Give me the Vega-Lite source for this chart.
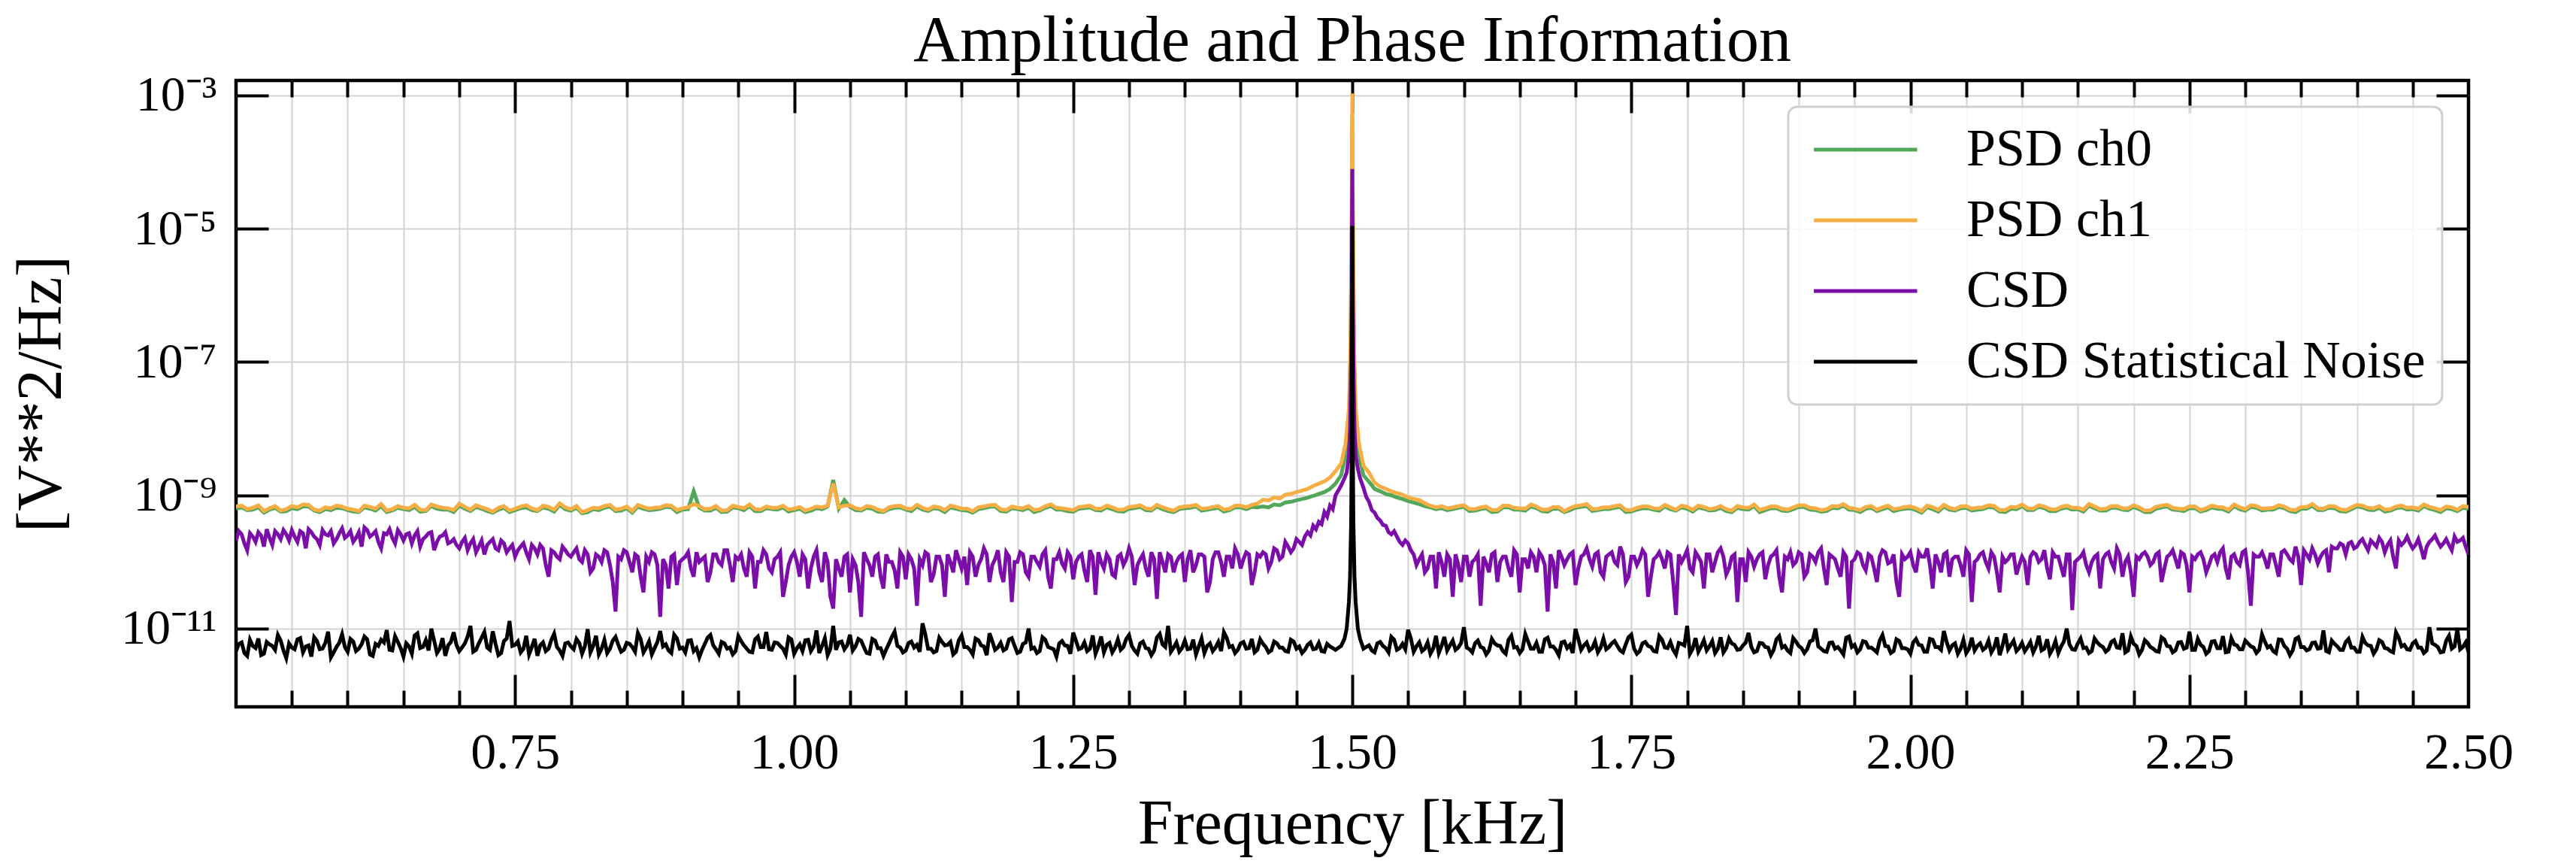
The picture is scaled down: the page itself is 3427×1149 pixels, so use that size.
{
  "$schema": "https://vega.github.io/schema/vega-lite/v6.json",
  "autosize": {"type": "none"},
  "width": 2970,
  "height": 833,
  "padding": {"left": 314, "top": 107, "right": 143, "bottom": 209},
  "background": "white",
  "title": {"text": "Amplitude and Phase Information", "font": "Liberation Serif", "fontSize": 86, "fontWeight": "normal", "color": "black", "anchor": "middle", "frame": "group", "baseline": "alphabetic", "offset": -73},
  "config": {
    "font": "Liberation Serif",
    "view": {"stroke": "black", "strokeWidth": 4.5},
    "axis": {"labelFont": "Liberation Serif", "titleFont": "Liberation Serif", "labelColor": "black", "titleColor": "black", "titleFontWeight": "normal", "labelFlush": false, "labelOverlap": false},
    "legend": {"orient": "top-right", "offset": 35, "padding": 22, "strokeColor": "#cfcfcf", "strokeWidth": 3, "cornerRadius": 12, "fillColor": "rgba(255,255,255,0.85)", "labelFont": "Liberation Serif", "labelFontSize": 70, "labelColor": "black", "labelLimit": 1000, "symbolType": "M-1,0H5", "symbolSize": 2100, "symbolStrokeWidth": 5, "labelOffset": 145, "rowPadding": 24}
  },
  "datasets": {
    "psd": [
      {"f":0.5,"ch0":6.3e-10,"ch1":6.8e-10},{"f":0.51,"ch0":6.0e-10,"ch1":6.2e-10},{"f":0.52,"ch0":6.6e-10,"ch1":7.1e-10},{"f":0.53,"ch0":6.1e-10,"ch1":6.4e-10},{"f":0.54,"ch0":5.7e-10,"ch1":5.9e-10},{"f":0.55,"ch0":6.4e-10,"ch1":6.9e-10},{"f":0.56,"ch0":6.8e-10,"ch1":7.3e-10},{"f":0.57,"ch0":5.9e-10,"ch1":6.1e-10},{"f":0.58,"ch0":6.2e-10,"ch1":6.6e-10},{"f":0.59,"ch0":6.5e-10,"ch1":7.0e-10},
      {"f":0.6,"ch0":6.0e-10,"ch1":6.3e-10},{"f":0.61,"ch0":5.6e-10,"ch1":5.8e-10},{"f":0.62,"ch0":6.3e-10,"ch1":6.7e-10},{"f":0.63,"ch0":6.9e-10,"ch1":7.4e-10},{"f":0.64,"ch0":5.9e-10,"ch1":6.2e-10},{"f":0.65,"ch0":6.2e-10,"ch1":6.5e-10},{"f":0.66,"ch0":6.7e-10,"ch1":7.2e-10},{"f":0.67,"ch0":5.8e-10,"ch1":6.0e-10},{"f":0.68,"ch0":6.3e-10,"ch1":6.8e-10},{"f":0.69,"ch0":6.1e-10,"ch1":6.4e-10},
      {"f":0.7,"ch0":7.0e-10,"ch1":7.5e-10},{"f":0.71,"ch0":5.8e-10,"ch1":6.1e-10},{"f":0.72,"ch0":6.3e-10,"ch1":6.6e-10},{"f":0.73,"ch0":5.5e-10,"ch1":5.7e-10},{"f":0.74,"ch0":6.5e-10,"ch1":6.9e-10},{"f":0.75,"ch0":6.0e-10,"ch1":6.3e-10},{"f":0.76,"ch0":6.6e-10,"ch1":7.1e-10},{"f":0.77,"ch0":5.8e-10,"ch1":6.0e-10},{"f":0.78,"ch0":6.3e-10,"ch1":6.7e-10},{"f":0.79,"ch0":7.2e-10,"ch1":7.6e-10},
      {"f":0.8,"ch0":5.9e-10,"ch1":6.2e-10},{"f":0.81,"ch0":5.4e-10,"ch1":5.6e-10},{"f":0.82,"ch0":6.2e-10,"ch1":6.5e-10},{"f":0.83,"ch0":6.5e-10,"ch1":6.9e-10},{"f":0.84,"ch0":5.8e-10,"ch1":6.1e-10},{"f":0.85,"ch0":6.4e-10,"ch1":6.8e-10},{"f":0.86,"ch0":6.8e-10,"ch1":7.2e-10},{"f":0.87,"ch0":6.0e-10,"ch1":6.3e-10},{"f":0.88,"ch0":6.3e-10,"ch1":6.6e-10},{"f":0.89,"ch0":6.6e-10,"ch1":7.0e-10},
      {"f":0.9,"ch0":6.1e-10,"ch1":6.4e-10},{"f":0.91,"ch0":1.15e-9,"ch1":7.4e-10},{"f":0.92,"ch0":5.9e-10,"ch1":6.2e-10},{"f":0.93,"ch0":6.5e-10,"ch1":6.9e-10},{"f":0.94,"ch0":5.7e-10,"ch1":6.0e-10},{"f":0.95,"ch0":6.4e-10,"ch1":6.7e-10},{"f":0.96,"ch0":6.9e-10,"ch1":7.3e-10},{"f":0.97,"ch0":5.8e-10,"ch1":6.1e-10},{"f":0.98,"ch0":6.2e-10,"ch1":6.5e-10},{"f":0.99,"ch0":6.6e-10,"ch1":7.0e-10},
      {"f":1.0,"ch0":6.0e-10,"ch1":6.3e-10},{"f":1.01,"ch0":5.6e-10,"ch1":5.9e-10},{"f":1.02,"ch0":6.4e-10,"ch1":6.8e-10},{"f":1.03,"ch0":6.8e-10,"ch1":7.0e-10},{"f":1.035,"ch0":1.7e-9,"ch1":1.5e-9},{"f":1.04,"ch0":6.3e-10,"ch1":6.6e-10},{"f":1.045,"ch0":8.5e-10,"ch1":7.0e-10},{"f":1.05,"ch0":6.7e-10,"ch1":7.1e-10},
      {"f":1.06,"ch0":5.9e-10,"ch1":6.2e-10},{"f":1.07,"ch0":6.3e-10,"ch1":6.7e-10},{"f":1.08,"ch0":5.6e-10,"ch1":5.8e-10},{"f":1.09,"ch0":6.5e-10,"ch1":6.9e-10},{"f":1.1,"ch0":6.1e-10,"ch1":6.4e-10},{"f":1.11,"ch0":6.8e-10,"ch1":7.2e-10},{"f":1.12,"ch0":5.8e-10,"ch1":6.1e-10},{"f":1.13,"ch0":6.2e-10,"ch1":6.6e-10},{"f":1.14,"ch0":6.6e-10,"ch1":7.0e-10},{"f":1.15,"ch0":6.0e-10,"ch1":6.3e-10},
      {"f":1.16,"ch0":5.5e-10,"ch1":5.8e-10},{"f":1.17,"ch0":6.4e-10,"ch1":6.8e-10},{"f":1.18,"ch0":6.8e-10,"ch1":7.2e-10},{"f":1.19,"ch0":5.7e-10,"ch1":6.0e-10},{"f":1.2,"ch0":6.2e-10,"ch1":6.5e-10},{"f":1.21,"ch0":6.5e-10,"ch1":6.9e-10},{"f":1.22,"ch0":5.9e-10,"ch1":6.2e-10},{"f":1.23,"ch0":6.9e-10,"ch1":7.3e-10},{"f":1.24,"ch0":6.1e-10,"ch1":6.4e-10},{"f":1.25,"ch0":5.7e-10,"ch1":6.0e-10},
      {"f":1.26,"ch0":6.4e-10,"ch1":6.8e-10},{"f":1.27,"ch0":6.0e-10,"ch1":6.3e-10},{"f":1.28,"ch0":6.6e-10,"ch1":7.0e-10},{"f":1.29,"ch0":5.8e-10,"ch1":6.1e-10},{"f":1.3,"ch0":6.3e-10,"ch1":6.7e-10},{"f":1.31,"ch0":6.7e-10,"ch1":7.1e-10},{"f":1.32,"ch0":5.9e-10,"ch1":6.2e-10},{"f":1.33,"ch0":6.2e-10,"ch1":6.6e-10},{"f":1.34,"ch0":5.6e-10,"ch1":5.9e-10},{"f":1.35,"ch0":6.4e-10,"ch1":6.8e-10},
      {"f":1.36,"ch0":6.8e-10,"ch1":7.2e-10},{"f":1.37,"ch0":6.1e-10,"ch1":6.4e-10},{"f":1.38,"ch0":6.5e-10,"ch1":6.9e-10},{"f":1.39,"ch0":6.0e-10,"ch1":6.3e-10},{"f":1.4,"ch0":6.6e-10,"ch1":7.0e-10},{"f":1.405,"ch0":6.2e-10,"ch1":6.6e-10},{"f":1.41,"ch0":6.7e-10,"ch1":7.2e-10},{"f":1.415,"ch0":6.6e-10,"ch1":7.5e-10},
      {"f":1.42,"ch0":6.8e-10,"ch1":8.6e-10},{"f":1.425,"ch0":6.6e-10,"ch1":8.4e-10},{"f":1.43,"ch0":7.3e-10,"ch1":9.3e-10},{"f":1.435,"ch0":7.1e-10,"ch1":9.0e-10},{"f":1.44,"ch0":7.8e-10,"ch1":1.02e-9},{"f":1.445,"ch0":8.0e-10,"ch1":1.05e-9},{"f":1.45,"ch0":8.4e-10,"ch1":1.12e-9},{"f":1.455,"ch0":8.8e-10,"ch1":1.18e-9},{"f":1.46,"ch0":9.2e-10,"ch1":1.25e-9},{"f":1.465,"ch0":9.8e-10,"ch1":1.38e-9},
      {"f":1.47,"ch0":1.05e-9,"ch1":1.5e-9},{"f":1.475,"ch0":1.12e-9,"ch1":1.62e-9},{"f":1.48,"ch0":1.25e-9,"ch1":1.85e-9},{"f":1.485,"ch0":1.5e-9,"ch1":2.3e-9},{"f":1.49,"ch0":2.0e-9,"ch1":3.0e-9},{"f":1.494,"ch0":4.0e-9,"ch1":6.0e-9},{"f":1.497,"ch0":1.4e-8,"ch1":2.0e-8},{"f":1.4985,"ch0":1.4e-7,"ch1":2.0e-7},{"f":1.4995,"ch0":1.4e-5,"ch1":2.0e-5},
      {"f":1.5,"ch0":5.0e-4,"ch1":1.07e-3},
      {"f":1.5005,"ch0":1.4e-5,"ch1":2.0e-5},{"f":1.5015,"ch0":1.4e-7,"ch1":2.0e-7},{"f":1.503,"ch0":1.4e-8,"ch1":2.0e-8},{"f":1.506,"ch0":4.0e-9,"ch1":6.0e-9},{"f":1.51,"ch0":2.0e-9,"ch1":2.8e-9},{"f":1.515,"ch0":1.6e-9,"ch1":2.2e-9},{"f":1.52,"ch0":1.25e-9,"ch1":1.55e-9},{"f":1.525,"ch0":1.15e-9,"ch1":1.35e-9},{"f":1.53,"ch0":1.05e-9,"ch1":1.25e-9},{"f":1.535,"ch0":1.0e-9,"ch1":1.15e-9},
      {"f":1.54,"ch0":9.3e-10,"ch1":1.08e-9},{"f":1.545,"ch0":8.8e-10,"ch1":1.02e-9},{"f":1.55,"ch0":8.2e-10,"ch1":9.3e-10},{"f":1.555,"ch0":7.8e-10,"ch1":8.8e-10},{"f":1.56,"ch0":7.4e-10,"ch1":8.5e-10},{"f":1.565,"ch0":6.9e-10,"ch1":7.6e-10},{"f":1.57,"ch0":6.6e-10,"ch1":7.0e-10},{"f":1.575,"ch0":6.2e-10,"ch1":6.6e-10},{"f":1.58,"ch0":6.4e-10,"ch1":6.9e-10},
      {"f":1.59,"ch0":6.2e-10,"ch1":6.6e-10},{"f":1.6,"ch0":6.7e-10,"ch1":7.1e-10},{"f":1.61,"ch0":5.9e-10,"ch1":6.2e-10},{"f":1.62,"ch0":6.4e-10,"ch1":6.8e-10},{"f":1.63,"ch0":5.7e-10,"ch1":6.0e-10},{"f":1.64,"ch0":6.6e-10,"ch1":7.0e-10},{"f":1.65,"ch0":6.1e-10,"ch1":6.4e-10},{"f":1.66,"ch0":6.8e-10,"ch1":7.3e-10},{"f":1.67,"ch0":5.8e-10,"ch1":6.1e-10},{"f":1.68,"ch0":6.3e-10,"ch1":6.7e-10},
      {"f":1.69,"ch0":5.6e-10,"ch1":5.8e-10},{"f":1.7,"ch0":6.5e-10,"ch1":6.9e-10},{"f":1.71,"ch0":6.9e-10,"ch1":7.4e-10},{"f":1.72,"ch0":6.0e-10,"ch1":6.3e-10},{"f":1.73,"ch0":6.2e-10,"ch1":6.6e-10},{"f":1.74,"ch0":6.7e-10,"ch1":7.1e-10},{"f":1.75,"ch0":5.7e-10,"ch1":6.0e-10},{"f":1.76,"ch0":6.4e-10,"ch1":6.8e-10},{"f":1.77,"ch0":6.1e-10,"ch1":6.4e-10},{"f":1.78,"ch0":6.8e-10,"ch1":7.2e-10},
      {"f":1.79,"ch0":5.9e-10,"ch1":6.1e-10},{"f":1.8,"ch0":6.3e-10,"ch1":6.7e-10},{"f":1.81,"ch0":6.6e-10,"ch1":7.0e-10},{"f":1.82,"ch0":5.9e-10,"ch1":6.2e-10},{"f":1.83,"ch0":6.5e-10,"ch1":6.9e-10},{"f":1.84,"ch0":5.6e-10,"ch1":5.9e-10},{"f":1.85,"ch0":6.2e-10,"ch1":6.6e-10},{"f":1.86,"ch0":6.9e-10,"ch1":7.3e-10},{"f":1.87,"ch0":6.0e-10,"ch1":6.4e-10},{"f":1.88,"ch0":6.4e-10,"ch1":6.8e-10},
      {"f":1.89,"ch0":5.8e-10,"ch1":6.1e-10},{"f":1.9,"ch0":6.7e-10,"ch1":7.1e-10},{"f":1.91,"ch0":6.1e-10,"ch1":6.5e-10},{"f":1.92,"ch0":5.7e-10,"ch1":6.0e-10},{"f":1.93,"ch0":6.5e-10,"ch1":6.9e-10},{"f":1.94,"ch0":7.0e-10,"ch1":7.4e-10},{"f":1.95,"ch0":6.0e-10,"ch1":6.3e-10},{"f":1.96,"ch0":6.3e-10,"ch1":6.7e-10},{"f":1.97,"ch0":5.8e-10,"ch1":6.1e-10},{"f":1.98,"ch0":6.6e-10,"ch1":7.0e-10},
      {"f":1.99,"ch0":6.1e-10,"ch1":6.4e-10},{"f":2.0,"ch0":6.4e-10,"ch1":6.8e-10},{"f":2.01,"ch0":5.5e-10,"ch1":5.8e-10},{"f":2.02,"ch0":6.2e-10,"ch1":6.6e-10},{"f":2.03,"ch0":6.8e-10,"ch1":7.2e-10},{"f":2.04,"ch0":5.9e-10,"ch1":6.2e-10},{"f":2.05,"ch0":6.5e-10,"ch1":6.9e-10},{"f":2.06,"ch0":6.1e-10,"ch1":6.5e-10},{"f":2.07,"ch0":6.7e-10,"ch1":7.1e-10},{"f":2.08,"ch0":5.7e-10,"ch1":6.0e-10},
      {"f":2.09,"ch0":6.3e-10,"ch1":6.7e-10},{"f":2.1,"ch0":6.9e-10,"ch1":7.3e-10},{"f":2.11,"ch0":6.0e-10,"ch1":6.3e-10},{"f":2.12,"ch0":6.4e-10,"ch1":6.8e-10},{"f":2.13,"ch0":5.8e-10,"ch1":6.1e-10},{"f":2.14,"ch0":6.6e-10,"ch1":7.0e-10},{"f":2.15,"ch0":6.2e-10,"ch1":6.5e-10},{"f":2.16,"ch0":7.0e-10,"ch1":7.4e-10},{"f":2.17,"ch0":5.9e-10,"ch1":6.2e-10},{"f":2.18,"ch0":6.5e-10,"ch1":6.9e-10},
      {"f":2.19,"ch0":6.1e-10,"ch1":6.4e-10},{"f":2.2,"ch0":6.7e-10,"ch1":7.1e-10},{"f":2.21,"ch0":5.6e-10,"ch1":5.9e-10},{"f":2.22,"ch0":6.3e-10,"ch1":6.7e-10},{"f":2.23,"ch0":6.8e-10,"ch1":7.2e-10},{"f":2.24,"ch0":6.0e-10,"ch1":6.3e-10},{"f":2.25,"ch0":6.4e-10,"ch1":6.8e-10},{"f":2.26,"ch0":5.7e-10,"ch1":6.0e-10},{"f":2.27,"ch0":6.6e-10,"ch1":7.0e-10},{"f":2.28,"ch0":6.2e-10,"ch1":6.6e-10},
      {"f":2.29,"ch0":6.9e-10,"ch1":7.3e-10},{"f":2.3,"ch0":5.9e-10,"ch1":6.2e-10},{"f":2.31,"ch0":6.5e-10,"ch1":6.9e-10},{"f":2.32,"ch0":6.1e-10,"ch1":6.4e-10},{"f":2.33,"ch0":6.7e-10,"ch1":7.1e-10},{"f":2.34,"ch0":5.8e-10,"ch1":6.1e-10},{"f":2.35,"ch0":6.3e-10,"ch1":6.7e-10},{"f":2.36,"ch0":7.0e-10,"ch1":7.4e-10},{"f":2.37,"ch0":6.0e-10,"ch1":6.3e-10},{"f":2.38,"ch0":6.4e-10,"ch1":6.8e-10},
      {"f":2.39,"ch0":5.7e-10,"ch1":6.0e-10},{"f":2.4,"ch0":6.8e-10,"ch1":7.2e-10},{"f":2.41,"ch0":6.1e-10,"ch1":6.5e-10},{"f":2.42,"ch0":6.5e-10,"ch1":6.9e-10},{"f":2.43,"ch0":5.9e-10,"ch1":6.2e-10},{"f":2.44,"ch0":6.6e-10,"ch1":7.0e-10},{"f":2.45,"ch0":6.2e-10,"ch1":6.6e-10},{"f":2.46,"ch0":6.9e-10,"ch1":7.3e-10},{"f":2.47,"ch0":6.0e-10,"ch1":6.4e-10},{"f":2.48,"ch0":6.4e-10,"ch1":6.8e-10},
      {"f":2.49,"ch0":5.8e-10,"ch1":6.1e-10},{"f":2.5,"ch0":6.3e-10,"ch1":6.7e-10},
      {"f":0.505,"ch0":6.6e-10,"ch1":7.0e-10},{"f":0.515,"ch0":6.1e-10,"ch1":6.5e-10},{"f":0.525,"ch0":5.5e-10,"ch1":5.8e-10},{"f":0.535,"ch0":6.5e-10,"ch1":6.9e-10},{"f":0.545,"ch0":5.8e-10,"ch1":6.2e-10},{"f":0.555,"ch0":6.2e-10,"ch1":6.6e-10},{"f":0.565,"ch0":6.8e-10,"ch1":7.2e-10},{"f":0.575,"ch0":5.6e-10,"ch1":5.9e-10},{"f":0.585,"ch0":6.0e-10,"ch1":6.4e-10},{"f":0.595,"ch0":6.4e-10,"ch1":6.8e-10},
      {"f":0.605,"ch0":5.7e-10,"ch1":6.1e-10},{"f":0.615,"ch0":6.6e-10,"ch1":7.0e-10},{"f":0.625,"ch0":5.9e-10,"ch1":6.3e-10},{"f":0.635,"ch0":5.6e-10,"ch1":5.9e-10},{"f":0.645,"ch0":6.5e-10,"ch1":6.9e-10},{"f":0.655,"ch0":6.0e-10,"ch1":6.4e-10},{"f":0.665,"ch0":5.7e-10,"ch1":6.1e-10},{"f":0.675,"ch0":6.9e-10,"ch1":7.3e-10},{"f":0.685,"ch0":6.1e-10,"ch1":6.5e-10},{"f":0.695,"ch0":5.6e-10,"ch1":6.0e-10},
      {"f":0.705,"ch0":6.3e-10,"ch1":6.7e-10},{"f":0.715,"ch0":6.7e-10,"ch1":7.1e-10},{"f":0.725,"ch0":5.8e-10,"ch1":6.2e-10},{"f":0.735,"ch0":6.1e-10,"ch1":6.5e-10},{"f":0.745,"ch0":5.6e-10,"ch1":5.9e-10},{"f":0.755,"ch0":6.4e-10,"ch1":6.8e-10},{"f":0.765,"ch0":6.0e-10,"ch1":6.4e-10},{"f":0.775,"ch0":6.6e-10,"ch1":7.0e-10},{"f":0.785,"ch0":5.7e-10,"ch1":6.1e-10},{"f":0.795,"ch0":6.2e-10,"ch1":6.6e-10},
      {"f":0.805,"ch0":6.5e-10,"ch1":6.9e-10},{"f":0.815,"ch0":5.6e-10,"ch1":6.0e-10},{"f":0.825,"ch0":6.0e-10,"ch1":6.4e-10},{"f":0.835,"ch0":6.8e-10,"ch1":7.2e-10},{"f":0.845,"ch0":5.9e-10,"ch1":6.3e-10},{"f":0.855,"ch0":5.5e-10,"ch1":5.8e-10},{"f":0.865,"ch0":6.3e-10,"ch1":6.7e-10},{"f":0.875,"ch0":6.1e-10,"ch1":6.5e-10},{"f":0.885,"ch0":6.7e-10,"ch1":7.1e-10},{"f":0.895,"ch0":5.6e-10,"ch1":6.0e-10},
      {"f":0.905,"ch0":6.2e-10,"ch1":6.6e-10},{"f":0.915,"ch0":6.5e-10,"ch1":6.9e-10},{"f":0.925,"ch0":5.9e-10,"ch1":6.3e-10},{"f":0.935,"ch0":5.6e-10,"ch1":5.9e-10},{"f":0.945,"ch0":6.6e-10,"ch1":7.0e-10},{"f":0.955,"ch0":6.0e-10,"ch1":6.4e-10},{"f":0.965,"ch0":5.8e-10,"ch1":6.2e-10},{"f":0.975,"ch0":6.4e-10,"ch1":6.8e-10},{"f":0.985,"ch0":6.1e-10,"ch1":6.5e-10},{"f":0.995,"ch0":5.7e-10,"ch1":6.1e-10},
      {"f":1.005,"ch0":6.3e-10,"ch1":6.7e-10},{"f":1.015,"ch0":5.9e-10,"ch1":6.3e-10},{"f":1.025,"ch0":6.2e-10,"ch1":6.6e-10},
      {"f":1.055,"ch0":6.0e-10,"ch1":6.4e-10},{"f":1.065,"ch0":6.5e-10,"ch1":6.9e-10},{"f":1.075,"ch0":5.7e-10,"ch1":6.1e-10},{"f":1.085,"ch0":6.2e-10,"ch1":6.6e-10},{"f":1.095,"ch0":6.6e-10,"ch1":7.0e-10},{"f":1.105,"ch0":5.8e-10,"ch1":6.2e-10},{"f":1.115,"ch0":6.1e-10,"ch1":6.5e-10},{"f":1.125,"ch0":6.4e-10,"ch1":6.8e-10},{"f":1.135,"ch0":5.6e-10,"ch1":6.0e-10},{"f":1.145,"ch0":6.3e-10,"ch1":6.7e-10},
      {"f":1.155,"ch0":5.9e-10,"ch1":6.3e-10},{"f":1.165,"ch0":6.2e-10,"ch1":6.6e-10},{"f":1.175,"ch0":6.7e-10,"ch1":7.1e-10},{"f":1.185,"ch0":5.8e-10,"ch1":6.2e-10},{"f":1.195,"ch0":6.4e-10,"ch1":6.8e-10},{"f":1.205,"ch0":6.0e-10,"ch1":6.4e-10},{"f":1.215,"ch0":5.6e-10,"ch1":6.0e-10},{"f":1.225,"ch0":6.5e-10,"ch1":6.9e-10},{"f":1.235,"ch0":6.1e-10,"ch1":6.5e-10},{"f":1.245,"ch0":5.8e-10,"ch1":6.2e-10},
      {"f":1.255,"ch0":6.3e-10,"ch1":6.7e-10},{"f":1.265,"ch0":6.6e-10,"ch1":7.0e-10},{"f":1.275,"ch0":5.9e-10,"ch1":6.3e-10},{"f":1.285,"ch0":6.2e-10,"ch1":6.6e-10},{"f":1.295,"ch0":5.7e-10,"ch1":6.1e-10},{"f":1.305,"ch0":6.4e-10,"ch1":6.8e-10},{"f":1.315,"ch0":6.0e-10,"ch1":6.4e-10},{"f":1.325,"ch0":6.8e-10,"ch1":7.2e-10},{"f":1.335,"ch0":5.8e-10,"ch1":6.2e-10},{"f":1.345,"ch0":6.2e-10,"ch1":6.6e-10},
      {"f":1.355,"ch0":6.5e-10,"ch1":6.9e-10},{"f":1.365,"ch0":5.9e-10,"ch1":6.3e-10},{"f":1.375,"ch0":6.3e-10,"ch1":6.7e-10},{"f":1.385,"ch0":5.7e-10,"ch1":6.1e-10},{"f":1.395,"ch0":6.6e-10,"ch1":7.0e-10},
      {"f":1.585,"ch0":6.0e-10,"ch1":6.4e-10},{"f":1.595,"ch0":6.5e-10,"ch1":6.9e-10},{"f":1.605,"ch0":5.8e-10,"ch1":6.2e-10},{"f":1.615,"ch0":6.2e-10,"ch1":6.6e-10},{"f":1.625,"ch0":5.6e-10,"ch1":6.0e-10},{"f":1.635,"ch0":6.6e-10,"ch1":7.0e-10},{"f":1.645,"ch0":6.1e-10,"ch1":6.5e-10},{"f":1.655,"ch0":5.9e-10,"ch1":6.3e-10},{"f":1.665,"ch0":6.4e-10,"ch1":6.8e-10},{"f":1.675,"ch0":5.7e-10,"ch1":6.1e-10},
      {"f":1.685,"ch0":6.3e-10,"ch1":6.7e-10},{"f":1.695,"ch0":6.0e-10,"ch1":6.4e-10},{"f":1.705,"ch0":6.7e-10,"ch1":7.1e-10},{"f":1.715,"ch0":5.8e-10,"ch1":6.2e-10},{"f":1.725,"ch0":6.2e-10,"ch1":6.6e-10},{"f":1.735,"ch0":6.5e-10,"ch1":6.9e-10},{"f":1.745,"ch0":5.6e-10,"ch1":6.0e-10},{"f":1.755,"ch0":6.1e-10,"ch1":6.5e-10},{"f":1.765,"ch0":6.4e-10,"ch1":6.8e-10},{"f":1.775,"ch0":5.9e-10,"ch1":6.3e-10},
      {"f":1.785,"ch0":6.2e-10,"ch1":6.6e-10},{"f":1.795,"ch0":6.6e-10,"ch1":7.0e-10},{"f":1.805,"ch0":5.7e-10,"ch1":6.1e-10},{"f":1.815,"ch0":6.3e-10,"ch1":6.7e-10},{"f":1.825,"ch0":6.0e-10,"ch1":6.4e-10},{"f":1.835,"ch0":5.8e-10,"ch1":6.2e-10},{"f":1.845,"ch0":6.5e-10,"ch1":6.9e-10},{"f":1.855,"ch0":6.1e-10,"ch1":6.5e-10},{"f":1.865,"ch0":5.6e-10,"ch1":6.0e-10},{"f":1.875,"ch0":6.4e-10,"ch1":6.8e-10},
      {"f":1.885,"ch0":5.9e-10,"ch1":6.3e-10},{"f":1.895,"ch0":6.2e-10,"ch1":6.6e-10},{"f":1.905,"ch0":6.7e-10,"ch1":7.1e-10},{"f":1.915,"ch0":6.0e-10,"ch1":6.4e-10},{"f":1.925,"ch0":5.8e-10,"ch1":6.2e-10},{"f":1.935,"ch0":6.4e-10,"ch1":6.8e-10},{"f":1.945,"ch0":6.1e-10,"ch1":6.5e-10},{"f":1.955,"ch0":5.6e-10,"ch1":6.0e-10},{"f":1.965,"ch0":6.5e-10,"ch1":6.9e-10},{"f":1.975,"ch0":6.2e-10,"ch1":6.6e-10},
      {"f":1.985,"ch0":5.8e-10,"ch1":6.2e-10},{"f":1.995,"ch0":6.3e-10,"ch1":6.7e-10},{"f":2.005,"ch0":6.0e-10,"ch1":6.4e-10},{"f":2.015,"ch0":6.6e-10,"ch1":7.0e-10},{"f":2.025,"ch0":5.7e-10,"ch1":6.1e-10},{"f":2.035,"ch0":6.1e-10,"ch1":6.5e-10},{"f":2.045,"ch0":6.4e-10,"ch1":6.8e-10},{"f":2.055,"ch0":5.9e-10,"ch1":6.3e-10},{"f":2.065,"ch0":6.2e-10,"ch1":6.6e-10},{"f":2.075,"ch0":6.5e-10,"ch1":6.9e-10},
      {"f":2.085,"ch0":5.6e-10,"ch1":6.0e-10},{"f":2.095,"ch0":6.2e-10,"ch1":6.6e-10},{"f":2.105,"ch0":6.0e-10,"ch1":6.4e-10},{"f":2.115,"ch0":6.7e-10,"ch1":7.1e-10},{"f":2.125,"ch0":5.8e-10,"ch1":6.2e-10},{"f":2.135,"ch0":6.3e-10,"ch1":6.7e-10},{"f":2.145,"ch0":6.1e-10,"ch1":6.5e-10},{"f":2.155,"ch0":5.7e-10,"ch1":6.1e-10},{"f":2.165,"ch0":6.4e-10,"ch1":6.8e-10},{"f":2.175,"ch0":5.9e-10,"ch1":6.3e-10},
      {"f":2.185,"ch0":6.5e-10,"ch1":6.9e-10},{"f":2.195,"ch0":6.0e-10,"ch1":6.4e-10},{"f":2.205,"ch0":6.2e-10,"ch1":6.6e-10},{"f":2.215,"ch0":5.6e-10,"ch1":6.0e-10},{"f":2.225,"ch0":6.6e-10,"ch1":7.0e-10},{"f":2.235,"ch0":6.1e-10,"ch1":6.5e-10},{"f":2.245,"ch0":5.8e-10,"ch1":6.2e-10},{"f":2.255,"ch0":6.4e-10,"ch1":6.8e-10},{"f":2.265,"ch0":6.0e-10,"ch1":6.4e-10},{"f":2.275,"ch0":6.3e-10,"ch1":6.7e-10},
      {"f":2.285,"ch0":5.7e-10,"ch1":6.1e-10},{"f":2.295,"ch0":6.2e-10,"ch1":6.6e-10},{"f":2.305,"ch0":6.7e-10,"ch1":7.1e-10},{"f":2.315,"ch0":5.9e-10,"ch1":6.3e-10},{"f":2.325,"ch0":6.1e-10,"ch1":6.5e-10},{"f":2.335,"ch0":6.4e-10,"ch1":6.8e-10},{"f":2.345,"ch0":5.6e-10,"ch1":6.0e-10},{"f":2.355,"ch0":6.3e-10,"ch1":6.7e-10},{"f":2.365,"ch0":6.0e-10,"ch1":6.4e-10},{"f":2.375,"ch0":6.5e-10,"ch1":6.9e-10},
      {"f":2.385,"ch0":5.8e-10,"ch1":6.2e-10},{"f":2.395,"ch0":6.2e-10,"ch1":6.6e-10},{"f":2.405,"ch0":6.6e-10,"ch1":7.0e-10},{"f":2.415,"ch0":6.0e-10,"ch1":6.4e-10},{"f":2.425,"ch0":5.7e-10,"ch1":6.1e-10},{"f":2.435,"ch0":6.4e-10,"ch1":6.8e-10},{"f":2.445,"ch0":6.1e-10,"ch1":6.5e-10},{"f":2.455,"ch0":5.9e-10,"ch1":6.3e-10},{"f":2.465,"ch0":6.3e-10,"ch1":6.7e-10},{"f":2.475,"ch0":5.6e-10,"ch1":6.0e-10},
      {"f":2.485,"ch0":6.2e-10,"ch1":6.6e-10},{"f":2.495,"ch0":6.5e-10,"ch1":6.9e-10}
    ],
    "csd": [
      {"f":0.5,"csd":2.1e-10,"noise":4.6e-12},{"f":0.505,"csd":2.6e-10,"noise":6.2e-12},{"f":0.51,"csd":1.5e-10,"noise":3.9e-12},{"f":0.515,"csd":2.4e-10,"noise":5.5e-12},{"f":0.52,"csd":2.8e-10,"noise":7.1e-12},{"f":0.525,"csd":1.7e-10,"noise":4.2e-12},{"f":0.53,"csd":2.3e-10,"noise":5.8e-12},{"f":0.535,"csd":2.9e-10,"noise":4.8e-12},{"f":0.54,"csd":2.2e-10,"noise":6.6e-12},{"f":0.545,"csd":2.6e-10,"noise":3.6e-12},
      {"f":0.55,"csd":3.0e-10,"noise":5.2e-12},{"f":0.555,"csd":2.0e-10,"noise":6.9e-12},{"f":0.56,"csd":2.7e-10,"noise":4.4e-12},{"f":0.565,"csd":3.1e-10,"noise":5.6e-12},{"f":0.57,"csd":2.4e-10,"noise":7.4e-12},{"f":0.575,"csd":1.8e-10,"noise":4.9e-12},{"f":0.58,"csd":2.6e-10,"noise":6.1e-12},{"f":0.585,"csd":2.9e-10,"noise":3.7e-12},{"f":0.59,"csd":2.2e-10,"noise":5.3e-12},{"f":0.595,"csd":3.2e-10,"noise":8.2e-12},
      {"f":0.6,"csd":2.5e-10,"noise":4.5e-12},{"f":0.605,"csd":2.0e-10,"noise":6.4e-12},{"f":0.61,"csd":2.8e-10,"noise":5.0e-12},{"f":0.615,"csd":3.3e-10,"noise":7.6e-12},{"f":0.62,"csd":2.4e-10,"noise":4.1e-12},{"f":0.625,"csd":2.9e-10,"noise":5.9e-12},{"f":0.63,"csd":1.6e-10,"noise":6.8e-12},{"f":0.635,"csd":2.6e-10,"noise":9.5e-12},{"f":0.64,"csd":2.3e-10,"noise":4.7e-12},{"f":0.645,"csd":3.0e-10,"noise":6.3e-12},
      {"f":0.65,"csd":2.1e-10,"noise":3.8e-12},{"f":0.655,"csd":2.7e-10,"noise":5.4e-12},{"f":0.66,"csd":2.5e-10,"noise":7.9e-12},{"f":0.665,"csd":1.7e-10,"noise":5.1e-12},{"f":0.67,"csd":2.4e-10,"noise":6.7e-12},{"f":0.675,"csd":2.8e-10,"noise":1.0e-11},{"f":0.68,"csd":2.0e-10,"noise":4.3e-12},{"f":0.685,"csd":2.5e-10,"noise":7.2e-12},{"f":0.69,"csd":1.9e-10,"noise":5.6e-12},{"f":0.695,"csd":2.2e-10,"noise":8.8e-12},
      {"f":0.7,"csd":1.6e-10,"noise":4.6e-12},{"f":0.705,"csd":2.3e-10,"noise":6.0e-12},{"f":0.71,"csd":1.9e-10,"noise":1.1e-11},{"f":0.715,"csd":1.4e-10,"noise":4.8e-12},{"f":0.72,"csd":2.1e-10,"noise":7.3e-12},{"f":0.725,"csd":1.8e-10,"noise":5.2e-12},{"f":0.73,"csd":2.2e-10,"noise":9.1e-12},{"f":0.735,"csd":1.5e-10,"noise":4.0e-12},{"f":0.74,"csd":1.9e-10,"noise":6.5e-12},{"f":0.745,"csd":1.6e-10,"noise":1.3e-11},
      {"f":0.75,"csd":1.2e-10,"noise":5.7e-12},{"f":0.755,"csd":1.7e-10,"noise":4.4e-12},{"f":0.76,"csd":1.4e-10,"noise":7.8e-12},{"f":0.765,"csd":1.8e-10,"noise":5.3e-12},{"f":0.77,"csd":1.3e-10,"noise":3.9e-12},{"f":0.775,"csd":1.6e-10,"noise":6.2e-12},{"f":0.78,"csd":6.0e-11,"noise":5.0e-12},{"f":0.785,"csd":1.4e-10,"noise":8.4e-12},{"f":0.79,"csd":1.1e-10,"noise":4.7e-12},{"f":0.795,"csd":1.5e-10,"noise":6.0e-12},
      {"f":0.8,"csd":1.2e-10,"noise":5.4e-12},{"f":0.805,"csd":1.6e-10,"noise":7.0e-12},{"f":0.81,"csd":1.0e-10,"noise":4.2e-12},{"f":0.815,"csd":1.3e-10,"noise":9.8e-12},{"f":0.82,"csd":8.0e-11,"noise":5.5e-12},{"f":0.825,"csd":1.2e-10,"noise":4.1e-12},{"f":0.83,"csd":1.5e-10,"noise":6.8e-12},{"f":0.835,"csd":9.0e-11,"noise":5.0e-12},{"f":0.84,"csd":1.8e-11,"noise":7.5e-12},{"f":0.845,"csd":1.1e-10,"noise":4.5e-12},
      {"f":0.85,"csd":1.4e-10,"noise":6.1e-12},{"f":0.855,"csd":7.0e-11,"noise":5.3e-12},{"f":0.86,"csd":1.2e-10,"noise":8.6e-12},{"f":0.865,"csd":3.5e-11,"noise":4.4e-12},{"f":0.87,"csd":1.0e-10,"noise":6.4e-12},{"f":0.875,"csd":1.3e-10,"noise":5.1e-12},{"f":0.88,"csd":1.5e-11,"noise":9.2e-12},{"f":0.885,"csd":9.0e-11,"noise":5.8e-12},{"f":0.89,"csd":1.2e-10,"noise":4.3e-12},{"f":0.895,"csd":4.5e-11,"noise":7.1e-12},
      {"f":0.9,"csd":1.1e-10,"noise":5.2e-12},{"f":0.905,"csd":1.4e-10,"noise":6.6e-12},{"f":0.91,"csd":6.0e-11,"noise":4.6e-12},{"f":0.915,"csd":1.0e-10,"noise":3.7e-12},{"f":0.92,"csd":1.2e-10,"noise":5.9e-12},{"f":0.925,"csd":7.0e-11,"noise":8.0e-12},{"f":0.93,"csd":1.3e-10,"noise":4.9e-12},{"f":0.935,"csd":9.0e-11,"noise":6.3e-12},{"f":0.94,"csd":1.5e-10,"noise":5.0e-12},{"f":0.945,"csd":5.0e-11,"noise":4.1e-12},
      {"f":0.95,"csd":1.1e-10,"noise":7.7e-12},{"f":0.955,"csd":8.0e-11,"noise":5.6e-12},{"f":0.96,"csd":1.4e-10,"noise":4.5e-12},{"f":0.965,"csd":4.0e-11,"noise":6.9e-12},{"f":0.97,"csd":1.0e-10,"noise":5.3e-12},{"f":0.975,"csd":1.3e-10,"noise":8.9e-12},{"f":0.98,"csd":7.0e-11,"noise":4.8e-12},{"f":0.985,"csd":1.2e-10,"noise":6.1e-12},{"f":0.99,"csd":3.0e-11,"noise":5.0e-12},{"f":0.995,"csd":9.0e-11,"noise":7.4e-12},
      {"f":1.0,"csd":1.4e-10,"noise":4.2e-12},{"f":1.005,"csd":6.0e-11,"noise":5.8e-12},{"f":1.01,"csd":1.1e-10,"noise":6.7e-12},{"f":1.015,"csd":8.0e-11,"noise":4.6e-12},{"f":1.02,"csd":1.5e-10,"noise":9.4e-12},{"f":1.025,"csd":5.0e-11,"noise":5.5e-12},{"f":1.03,"csd":1.0e-10,"noise":4.0e-12},{"f":1.035,"csd":2.0e-11,"noise":1.1e-11},{"f":1.04,"csd":8.0e-11,"noise":6.2e-12},{"f":1.045,"csd":1.2e-10,"noise":4.9e-12},
      {"f":1.05,"csd":3.5e-11,"noise":8.1e-12},{"f":1.055,"csd":9.0e-11,"noise":5.4e-12},{"f":1.06,"csd":1.5e-11,"noise":6.6e-12},{"f":1.065,"csd":1.1e-10,"noise":4.3e-12},{"f":1.07,"csd":6.0e-11,"noise":7.0e-12},{"f":1.075,"csd":1.3e-10,"noise":5.1e-12},{"f":1.08,"csd":4.0e-11,"noise":3.9e-12},{"f":1.085,"csd":1.0e-10,"noise":6.0e-12},{"f":1.09,"csd":7.5e-11,"noise":9.0e-12},{"f":1.095,"csd":1.4e-10,"noise":5.2e-12},
      {"f":1.1,"csd":5.5e-11,"noise":4.7e-12},{"f":1.105,"csd":1.1e-10,"noise":6.4e-12},{"f":1.11,"csd":2.2e-11,"noise":5.7e-12},{"f":1.115,"csd":9.0e-11,"noise":1.2e-11},{"f":1.12,"csd":1.3e-10,"noise":5.0e-12},{"f":1.125,"csd":6.5e-11,"noise":4.4e-12},{"f":1.13,"csd":1.2e-10,"noise":7.3e-12},{"f":1.135,"csd":3.0e-11,"noise":5.6e-12},{"f":1.14,"csd":1.0e-10,"noise":6.3e-12},{"f":1.145,"csd":1.5e-10,"noise":4.5e-12},
      {"f":1.15,"csd":8.0e-11,"noise":7.9e-12},{"f":1.155,"csd":4.5e-11,"noise":5.3e-12},{"f":1.16,"csd":1.2e-10,"noise":4.1e-12},{"f":1.165,"csd":9.0e-11,"noise":6.7e-12},{"f":1.17,"csd":1.6e-10,"noise":5.4e-12},{"f":1.175,"csd":5.0e-11,"noise":8.5e-12},{"f":1.18,"csd":1.1e-10,"noise":4.8e-12},{"f":1.185,"csd":7.0e-11,"noise":6.1e-12},{"f":1.19,"csd":1.4e-10,"noise":5.0e-12},{"f":1.195,"csd":2.5e-11,"noise":7.2e-12},
      {"f":1.2,"csd":1.0e-10,"noise":4.3e-12},{"f":1.205,"csd":1.3e-10,"noise":5.9e-12},{"f":1.21,"csd":6.0e-11,"noise":1.0e-11},{"f":1.215,"csd":1.2e-10,"noise":5.2e-12},{"f":1.22,"csd":8.5e-11,"noise":4.6e-12},{"f":1.225,"csd":1.5e-10,"noise":6.8e-12},{"f":1.23,"csd":4.0e-11,"noise":5.1e-12},{"f":1.235,"csd":1.1e-10,"noise":3.8e-12},{"f":1.24,"csd":9.5e-11,"noise":6.5e-12},{"f":1.245,"csd":1.4e-10,"noise":5.5e-12},
      {"f":1.25,"csd":5.5e-11,"noise":8.7e-12},{"f":1.255,"csd":1.2e-10,"noise":4.9e-12},{"f":1.26,"csd":7.5e-11,"noise":6.2e-12},{"f":1.265,"csd":1.5e-10,"noise":5.0e-12},{"f":1.27,"csd":3.2e-11,"noise":4.2e-12},{"f":1.275,"csd":1.0e-10,"noise":7.6e-12},{"f":1.28,"csd":1.3e-10,"noise":5.7e-12},{"f":1.285,"csd":6.5e-11,"noise":4.4e-12},{"f":1.29,"csd":1.2e-10,"noise":6.9e-12},{"f":1.295,"csd":9.0e-11,"noise":5.3e-12},
      {"f":1.3,"csd":1.6e-10,"noise":8.0e-12},{"f":1.305,"csd":4.5e-11,"noise":4.7e-12},{"f":1.31,"csd":1.1e-10,"noise":6.0e-12},{"f":1.315,"csd":8.0e-11,"noise":5.1e-12},{"f":1.32,"csd":1.4e-10,"noise":4.0e-12},{"f":1.325,"csd":2.8e-11,"noise":7.4e-12},{"f":1.33,"csd":1.0e-10,"noise":5.8e-12},{"f":1.335,"csd":1.3e-10,"noise":1.1e-11},{"f":1.34,"csd":7.0e-11,"noise":5.2e-12},{"f":1.345,"csd":1.2e-10,"noise":4.5e-12},
      {"f":1.35,"csd":5.0e-11,"noise":6.6e-12},{"f":1.355,"csd":1.5e-10,"noise":5.0e-12},{"f":1.36,"csd":9.0e-11,"noise":4.1e-12},{"f":1.365,"csd":1.3e-10,"noise":7.1e-12},{"f":1.37,"csd":3.5e-11,"noise":5.5e-12},{"f":1.375,"csd":1.1e-10,"noise":4.6e-12},{"f":1.38,"csd":1.4e-10,"noise":6.3e-12},{"f":1.385,"csd":6.0e-11,"noise":8.8e-12},{"f":1.39,"csd":1.2e-10,"noise":5.3e-12},{"f":1.395,"csd":1.6e-10,"noise":4.3e-12},
      {"f":1.4,"csd":8.0e-11,"noise":6.0e-12},{"f":1.405,"csd":1.4e-10,"noise":5.0e-12},{"f":1.41,"csd":4.5e-11,"noise":7.0e-12},{"f":1.415,"csd":1.3e-10,"noise":4.8e-12},
      {"f":1.42,"csd":1.4e-10,"noise":5.9e-12},{"f":1.425,"csd":8.0e-11,"noise":4.4e-12},{"f":1.43,"csd":1.6e-10,"noise":6.4e-12},{"f":1.435,"csd":1.1e-10,"noise":5.2e-12},{"f":1.44,"csd":2.0e-10,"noise":4.6e-12},{"f":1.445,"csd":1.4e-10,"noise":6.8e-12},{"f":1.45,"csd":2.2e-10,"noise":5.0e-12},{"f":1.455,"csd":1.8e-10,"noise":4.3e-12},{"f":1.46,"csd":2.8e-10,"noise":5.7e-12},{"f":1.465,"csd":3.5e-10,"noise":4.9e-12},
      {"f":1.47,"csd":4.0e-10,"noise":6.1e-12},{"f":1.475,"csd":5.6e-10,"noise":4.5e-12},{"f":1.48,"csd":7.0e-10,"noise":5.4e-12},{"f":1.485,"csd":1.0e-9,"noise":4.8e-12},{"f":1.49,"csd":1.4e-9,"noise":5.5e-12},{"f":1.493,"csd":1.8e-9,"noise":7.0e-12},{"f":1.495,"csd":2.2e-9,"noise":1.0e-11},{"f":1.497,"csd":4.0e-9,"noise":2.5e-11},{"f":1.498,"csd":1.0e-8,"noise":6.0e-11},{"f":1.499,"csd":1.0e-7,"noise":4.0e-10},{"f":1.4995,"csd":1.0e-6,"noise":5.0e-9},
      {"f":1.5,"csd":7.9e-5,"noise":1.1e-5},
      {"f":1.5005,"csd":1.0e-6,"noise":5.0e-9},{"f":1.501,"csd":1.0e-7,"noise":4.0e-10},{"f":1.502,"csd":1.0e-8,"noise":6.0e-11},{"f":1.503,"csd":4.0e-9,"noise":2.5e-11},{"f":1.505,"csd":2.5e-9,"noise":1.0e-11},{"f":1.507,"csd":1.8e-9,"noise":7.0e-12},{"f":1.51,"csd":1.3e-9,"noise":5.0e-12},
      {"f":1.515,"csd":8.0e-10,"noise":5.6e-12},{"f":1.52,"csd":5.5e-10,"noise":4.4e-12},{"f":1.525,"csd":4.2e-10,"noise":6.3e-12},{"f":1.53,"csd":3.5e-10,"noise":5.1e-12},{"f":1.535,"csd":2.6e-10,"noise":7.5e-12},{"f":1.54,"csd":2.4e-10,"noise":4.8e-12},{"f":1.545,"csd":1.8e-10,"noise":5.9e-12},{"f":1.55,"csd":1.9e-10,"noise":9.6e-12},{"f":1.555,"csd":1.3e-10,"noise":4.5e-12},{"f":1.56,"csd":1.1e-10,"noise":6.2e-12},
      {"f":1.565,"csd":7.0e-11,"noise":5.0e-12},{"f":1.57,"csd":1.2e-10,"noise":4.2e-12},{"f":1.575,"csd":4.0e-11,"noise":7.8e-12},{"f":1.58,"csd":1.0e-10,"noise":5.5e-12},{"f":1.585,"csd":1.3e-10,"noise":4.7e-12},{"f":1.59,"csd":3.0e-11,"noise":6.6e-12},{"f":1.595,"csd":9.0e-11,"noise":5.2e-12},{"f":1.6,"csd":1.2e-10,"noise":1.05e-11},{"f":1.605,"csd":6.0e-11,"noise":4.9e-12},{"f":1.61,"csd":1.1e-10,"noise":6.0e-12},
      {"f":1.615,"csd":2.2e-11,"noise":5.3e-12},{"f":1.62,"csd":9.5e-11,"noise":4.1e-12},{"f":1.625,"csd":1.3e-10,"noise":7.0e-12},{"f":1.63,"csd":5.0e-11,"noise":5.6e-12},{"f":1.635,"csd":1.2e-10,"noise":4.6e-12},{"f":1.64,"csd":8.0e-11,"noise":6.8e-12},{"f":1.645,"csd":1.5e-10,"noise":5.2e-12},{"f":1.65,"csd":3.5e-11,"noise":4.3e-12},{"f":1.655,"csd":1.1e-10,"noise":8.3e-12},{"f":1.66,"csd":1.4e-10,"noise":5.0e-12},
      {"f":1.665,"csd":7.0e-11,"noise":6.1e-12},{"f":1.67,"csd":1.2e-10,"noise":4.5e-12},{"f":1.675,"csd":1.8e-11,"noise":7.3e-12},{"f":1.68,"csd":1.0e-10,"noise":5.4e-12},{"f":1.685,"csd":1.5e-10,"noise":4.0e-12},{"f":1.69,"csd":9.0e-11,"noise":6.4e-12},{"f":1.695,"csd":1.3e-10,"noise":5.7e-12},{"f":1.7,"csd":4.5e-11,"noise":9.9e-12},{"f":1.705,"csd":1.2e-10,"noise":4.8e-12},{"f":1.71,"csd":1.6e-10,"noise":6.2e-12},
      {"f":1.715,"csd":8.5e-11,"noise":5.1e-12},{"f":1.72,"csd":1.4e-10,"noise":4.4e-12},{"f":1.725,"csd":6.0e-11,"noise":7.1e-12},{"f":1.73,"csd":1.3e-10,"noise":5.3e-12},{"f":1.735,"csd":1.0e-10,"noise":6.5e-12},{"f":1.74,"csd":1.7e-10,"noise":4.7e-12},{"f":1.745,"csd":5.0e-11,"noise":5.8e-12},{"f":1.75,"csd":1.2e-10,"noise":8.1e-12},{"f":1.755,"csd":9.0e-11,"noise":4.2e-12},{"f":1.76,"csd":1.5e-10,"noise":6.0e-12},
      {"f":1.765,"csd":3.0e-11,"noise":5.5e-12},{"f":1.77,"csd":1.1e-10,"noise":4.6e-12},{"f":1.775,"csd":1.4e-10,"noise":7.7e-12},{"f":1.78,"csd":8.0e-11,"noise":5.2e-12},{"f":1.785,"csd":1.3e-10,"noise":6.3e-12},{"f":1.79,"csd":1.6e-11,"noise":4.1e-12},{"f":1.795,"csd":1.0e-10,"noise":5.9e-12},{"f":1.8,"csd":1.5e-10,"noise":1.1e-11},{"f":1.805,"csd":7.0e-11,"noise":5.0e-12},{"f":1.81,"csd":1.2e-10,"noise":4.5e-12},
      {"f":1.815,"csd":4.0e-11,"noise":6.7e-12},{"f":1.82,"csd":1.3e-10,"noise":5.4e-12},{"f":1.825,"csd":1.0e-10,"noise":4.3e-12},{"f":1.83,"csd":1.6e-10,"noise":7.4e-12},{"f":1.835,"csd":6.5e-11,"noise":5.1e-12},{"f":1.84,"csd":1.2e-10,"noise":6.0e-12},{"f":1.845,"csd":2.5e-11,"noise":4.8e-12},{"f":1.85,"csd":1.1e-10,"noise":5.6e-12},{"f":1.855,"csd":1.4e-10,"noise":8.6e-12},{"f":1.86,"csd":8.5e-11,"noise":4.4e-12},
      {"f":1.865,"csd":1.3e-10,"noise":6.1e-12},{"f":1.87,"csd":5.5e-11,"noise":5.3e-12},{"f":1.875,"csd":1.2e-10,"noise":4.0e-12},{"f":1.88,"csd":1.5e-10,"noise":6.9e-12},{"f":1.885,"csd":3.5e-11,"noise":5.2e-12},{"f":1.89,"csd":1.1e-10,"noise":4.7e-12},{"f":1.895,"csd":9.0e-11,"noise":7.2e-12},{"f":1.9,"csd":1.4e-10,"noise":5.5e-12},{"f":1.905,"csd":6.0e-11,"noise":4.3e-12},{"f":1.91,"csd":1.3e-10,"noise":6.4e-12},
      {"f":1.915,"csd":1.0e-10,"noise":1.0e-11},{"f":1.92,"csd":1.6e-10,"noise":5.0e-12},{"f":1.925,"csd":4.5e-11,"noise":4.5e-12},{"f":1.93,"csd":1.2e-10,"noise":6.2e-12},{"f":1.935,"csd":8.0e-11,"noise":5.3e-12},{"f":1.94,"csd":1.4e-10,"noise":4.1e-12},{"f":1.945,"csd":2.0e-11,"noise":7.6e-12},{"f":1.95,"csd":1.1e-10,"noise":5.7e-12},{"f":1.955,"csd":1.3e-10,"noise":4.9e-12},{"f":1.96,"csd":7.5e-11,"noise":6.3e-12},
      {"f":1.965,"csd":1.2e-10,"noise":5.2e-12},{"f":1.97,"csd":5.0e-11,"noise":4.4e-12},{"f":1.975,"csd":1.5e-10,"noise":8.0e-12},{"f":1.98,"csd":9.5e-11,"noise":5.4e-12},{"f":1.985,"csd":1.3e-10,"noise":4.6e-12},{"f":1.99,"csd":3.0e-11,"noise":6.5e-12},{"f":1.995,"csd":1.1e-10,"noise":5.1e-12},{"f":2.0,"csd":1.4e-10,"noise":4.2e-12},{"f":2.005,"csd":7.0e-11,"noise":7.0e-12},{"f":2.01,"csd":1.2e-10,"noise":5.6e-12},
      {"f":2.015,"csd":1.6e-10,"noise":4.5e-12},{"f":2.02,"csd":4.0e-11,"noise":6.8e-12},{"f":2.025,"csd":1.0e-10,"noise":5.3e-12},{"f":2.03,"csd":1.3e-10,"noise":9.2e-12},{"f":2.035,"csd":6.0e-11,"noise":4.7e-12},{"f":2.04,"csd":1.2e-10,"noise":6.0e-12},{"f":2.045,"csd":9.0e-11,"noise":5.0e-12},{"f":2.05,"csd":1.5e-10,"noise":4.3e-12},{"f":2.055,"csd":2.5e-11,"noise":7.3e-12},{"f":2.06,"csd":1.1e-10,"noise":5.5e-12},
      {"f":2.065,"csd":1.4e-10,"noise":4.8e-12},{"f":2.07,"csd":8.0e-11,"noise":6.6e-12},{"f":2.075,"csd":1.2e-10,"noise":5.2e-12},{"f":2.08,"csd":3.5e-11,"noise":4.0e-12},{"f":2.085,"csd":1.0e-10,"noise":8.4e-12},{"f":2.09,"csd":1.3e-10,"noise":5.7e-12},{"f":2.095,"csd":6.5e-11,"noise":4.6e-12},{"f":2.1,"csd":1.2e-10,"noise":6.1e-12},{"f":2.105,"csd":4.5e-11,"noise":5.3e-12},{"f":2.11,"csd":1.4e-10,"noise":4.4e-12},
      {"f":2.115,"csd":1.0e-10,"noise":7.8e-12},{"f":2.12,"csd":1.5e-10,"noise":5.0e-12},{"f":2.125,"csd":5.5e-11,"noise":4.2e-12},{"f":2.13,"csd":1.2e-10,"noise":6.5e-12},{"f":2.135,"csd":8.5e-11,"noise":5.4e-12},{"f":2.14,"csd":1.3e-10,"noise":1.0e-11},{"f":2.145,"csd":1.9e-11,"noise":4.9e-12},{"f":2.15,"csd":1.1e-10,"noise":6.0e-12},{"f":2.155,"csd":1.4e-10,"noise":5.1e-12},{"f":2.16,"csd":7.0e-11,"noise":4.3e-12},
      {"f":2.165,"csd":1.2e-10,"noise":7.1e-12},{"f":2.17,"csd":4.0e-11,"noise":5.6e-12},{"f":2.175,"csd":1.3e-10,"noise":4.5e-12},{"f":2.18,"csd":1.0e-10,"noise":6.3e-12},{"f":2.185,"csd":1.6e-10,"noise":5.2e-12},{"f":2.19,"csd":6.0e-11,"noise":8.5e-12},{"f":2.195,"csd":1.2e-10,"noise":4.7e-12},{"f":2.2,"csd":3.0e-11,"noise":5.9e-12},{"f":2.205,"csd":1.1e-10,"noise":4.1e-12},{"f":2.21,"csd":1.4e-10,"noise":6.7e-12},
      {"f":2.215,"csd":9.0e-11,"noise":5.3e-12},{"f":2.22,"csd":1.3e-10,"noise":4.6e-12},{"f":2.225,"csd":5.0e-11,"noise":7.4e-12},{"f":2.23,"csd":1.2e-10,"noise":5.5e-12},{"f":2.235,"csd":1.5e-10,"noise":4.4e-12},{"f":2.24,"csd":8.0e-11,"noise":6.2e-12},{"f":2.245,"csd":1.3e-10,"noise":5.0e-12},{"f":2.25,"csd":3.5e-11,"noise":9.0e-12},{"f":2.255,"csd":1.1e-10,"noise":4.8e-12},{"f":2.26,"csd":1.4e-10,"noise":5.7e-12},
      {"f":2.265,"csd":7.0e-11,"noise":4.2e-12},{"f":2.27,"csd":1.2e-10,"noise":6.4e-12},{"f":2.275,"csd":1.0e-10,"noise":5.1e-12},{"f":2.28,"csd":1.6e-10,"noise":7.7e-12},{"f":2.285,"csd":5.5e-11,"noise":4.5e-12},{"f":2.29,"csd":1.3e-10,"noise":5.8e-12},{"f":2.295,"csd":9.0e-11,"noise":4.9e-12},{"f":2.3,"csd":1.5e-10,"noise":6.6e-12},{"f":2.305,"csd":2.2e-11,"noise":5.4e-12},{"f":2.31,"csd":1.2e-10,"noise":4.3e-12},
      {"f":2.315,"csd":1.4e-10,"noise":8.2e-12},{"f":2.32,"csd":8.0e-11,"noise":5.2e-12},{"f":2.325,"csd":1.3e-10,"noise":4.6e-12},{"f":2.33,"csd":6.0e-11,"noise":6.9e-12},{"f":2.335,"csd":1.5e-10,"noise":5.5e-12},{"f":2.34,"csd":1.1e-10,"noise":4.0e-12},{"f":2.345,"csd":1.7e-10,"noise":7.0e-12},{"f":2.35,"csd":4.5e-11,"noise":5.3e-12},{"f":2.355,"csd":1.3e-10,"noise":4.7e-12},{"f":2.36,"csd":1.6e-10,"noise":6.1e-12},
      {"f":2.365,"csd":9.5e-11,"noise":5.0e-12},{"f":2.37,"csd":1.4e-10,"noise":9.4e-12},{"f":2.375,"csd":7.0e-11,"noise":4.4e-12},{"f":2.38,"csd":1.6e-10,"noise":5.9e-12},{"f":2.385,"csd":1.9e-10,"noise":4.8e-12},{"f":2.39,"csd":1.3e-10,"noise":6.3e-12},{"f":2.395,"csd":2.0e-10,"noise":5.2e-12},{"f":2.4,"csd":1.7e-10,"noise":4.5e-12},{"f":2.405,"csd":2.2e-10,"noise":7.5e-12},{"f":2.41,"csd":1.5e-10,"noise":5.6e-12},
      {"f":2.415,"csd":1.9e-10,"noise":4.2e-12},{"f":2.42,"csd":2.3e-10,"noise":6.7e-12},{"f":2.425,"csd":1.4e-10,"noise":5.1e-12},{"f":2.43,"csd":2.1e-10,"noise":4.6e-12},{"f":2.435,"csd":8.0e-11,"noise":8.8e-12},{"f":2.44,"csd":1.8e-10,"noise":5.4e-12},{"f":2.445,"csd":2.4e-10,"noise":4.9e-12},{"f":2.45,"csd":1.6e-10,"noise":6.0e-12},{"f":2.455,"csd":2.2e-10,"noise":5.2e-12},{"f":2.46,"csd":1.1e-10,"noise":4.3e-12},
      {"f":2.465,"csd":2.0e-10,"noise":1.05e-11},{"f":2.47,"csd":2.5e-10,"noise":5.7e-12},{"f":2.475,"csd":1.7e-10,"noise":4.4e-12},{"f":2.48,"csd":2.2e-10,"noise":6.6e-12},{"f":2.485,"csd":1.5e-10,"noise":5.0e-12},{"f":2.49,"csd":2.0e-10,"noise":9.8e-12},{"f":2.495,"csd":2.3e-10,"noise":5.3e-12},{"f":2.5,"csd":1.3e-10,"noise":4.5e-12},
      {"f":0.5025,"csd":2.9e-10,"noise":5.9e-12},{"f":0.5075,"csd":1.9e-10,"noise":4.3e-12},{"f":0.5125,"csd":2.7e-10,"noise":6.8e-12},{"f":0.5175,"csd":2.0e-10,"noise":5.1e-12},{"f":0.5225,"csd":2.5e-10,"noise":4.0e-12},{"f":0.5275,"csd":3.1e-10,"noise":6.3e-12},{"f":0.5325,"csd":1.8e-10,"noise":5.5e-12},{"f":0.5375,"csd":2.6e-10,"noise":8.0e-12},{"f":0.5425,"csd":3.0e-10,"noise":4.7e-12},{"f":0.5475,"csd":2.1e-10,"noise":6.0e-12},
      {"f":0.5525,"csd":2.4e-10,"noise":4.9e-12},{"f":0.5575,"csd":2.9e-10,"noise":7.2e-12},{"f":0.5625,"csd":1.6e-10,"noise":5.4e-12},{"f":0.5675,"csd":2.8e-10,"noise":3.8e-12},{"f":0.5725,"csd":2.2e-10,"noise":6.5e-12},{"f":0.5775,"csd":3.0e-10,"noise":5.0e-12},{"f":0.5825,"csd":2.5e-10,"noise":9.0e-12},{"f":0.5875,"csd":1.9e-10,"noise":4.4e-12},{"f":0.5925,"csd":2.7e-10,"noise":6.1e-12},{"f":0.5975,"csd":2.3e-10,"noise":5.3e-12},
      {"f":0.6025,"csd":2.9e-10,"noise":7.0e-12},{"f":0.6075,"csd":2.3e-10,"noise":4.6e-12},{"f":0.6125,"csd":1.7e-10,"noise":5.8e-12},{"f":0.6175,"csd":3.0e-10,"noise":6.9e-12},{"f":0.6225,"csd":2.6e-10,"noise":3.9e-12},{"f":0.6275,"csd":2.0e-10,"noise":5.5e-12},{"f":0.6325,"csd":2.7e-10,"noise":6.2e-12},{"f":0.6375,"csd":3.1e-10,"noise":4.8e-12},{"f":0.6425,"csd":1.9e-10,"noise":7.7e-12},{"f":0.6475,"csd":2.6e-10,"noise":5.1e-12},
      {"f":0.6525,"csd":2.6e-10,"noise":6.0e-12},{"f":0.6575,"csd":1.9e-10,"noise":4.2e-12},{"f":0.6625,"csd":2.9e-10,"noise":8.5e-12},{"f":0.6675,"csd":2.2e-10,"noise":5.3e-12},{"f":0.6725,"csd":2.7e-10,"noise":4.7e-12},{"f":0.6775,"csd":1.5e-10,"noise":6.6e-12},{"f":0.6825,"csd":2.4e-10,"noise":5.0e-12},{"f":0.6875,"csd":2.8e-10,"noise":3.9e-12},{"f":0.6925,"csd":2.0e-10,"noise":6.3e-12},{"f":0.6975,"csd":1.8e-10,"noise":5.7e-12},
      {"f":0.7025,"csd":2.0e-10,"noise":5.2e-12},{"f":0.7075,"csd":1.5e-10,"noise":7.6e-12},{"f":0.7125,"csd":2.2e-10,"noise":4.5e-12},{"f":0.7175,"csd":1.7e-10,"noise":6.0e-12},{"f":0.7225,"csd":1.3e-10,"noise":8.9e-12},{"f":0.7275,"csd":2.0e-10,"noise":4.8e-12},{"f":0.7325,"csd":1.6e-10,"noise":5.9e-12},{"f":0.7375,"csd":2.1e-10,"noise":4.3e-12},{"f":0.7425,"csd":1.4e-10,"noise":7.1e-12},{"f":0.7475,"csd":1.8e-10,"noise":5.5e-12},
      {"f":0.7525,"csd":1.5e-10,"noise":6.4e-12},{"f":0.7575,"csd":1.9e-10,"noise":5.0e-12},{"f":0.7625,"csd":1.1e-10,"noise":4.1e-12},{"f":0.7675,"csd":1.6e-10,"noise":7.0e-12},{"f":0.7725,"csd":1.8e-10,"noise":5.6e-12},{"f":0.7775,"csd":9.0e-11,"noise":4.6e-12},{"f":0.7825,"csd":1.5e-10,"noise":6.8e-12},{"f":0.7875,"csd":1.2e-10,"noise":5.3e-12},{"f":0.7925,"csd":1.7e-10,"noise":3.9e-12},{"f":0.7975,"csd":1.3e-10,"noise":6.2e-12},
      {"f":0.8025,"csd":1.4e-10,"noise":4.9e-12},{"f":0.8075,"csd":1.1e-10,"noise":6.1e-12},{"f":0.8125,"csd":1.5e-10,"noise":5.4e-12},{"f":0.8175,"csd":7.0e-11,"noise":4.4e-12},{"f":0.8225,"csd":1.3e-10,"noise":7.8e-12},{"f":0.8275,"csd":1.0e-10,"noise":5.0e-12},{"f":0.8325,"csd":1.4e-10,"noise":4.3e-12},{"f":0.8375,"csd":5.0e-11,"noise":6.6e-12},{"f":0.8425,"csd":1.2e-10,"noise":5.7e-12},{"f":0.8475,"csd":1.5e-10,"noise":4.8e-12},
      {"f":0.8525,"csd":1.0e-10,"noise":5.9e-12},{"f":0.8575,"csd":1.3e-10,"noise":4.5e-12},{"f":0.8625,"csd":6.0e-11,"noise":7.0e-12},{"f":0.8675,"csd":1.2e-10,"noise":5.2e-12},{"f":0.8725,"csd":1.4e-10,"noise":4.1e-12},{"f":0.8775,"csd":9.0e-11,"noise":6.3e-12},{"f":0.8825,"csd":1.1e-10,"noise":5.4e-12},{"f":0.8875,"csd":4.0e-11,"noise":4.7e-12},{"f":0.8925,"csd":1.3e-10,"noise":8.1e-12},{"f":0.8975,"csd":1.0e-10,"noise":5.0e-12},
      {"f":0.9025,"csd":1.2e-10,"noise":4.4e-12},{"f":0.9075,"csd":8.0e-11,"noise":6.7e-12},{"f":0.9125,"csd":1.4e-10,"noise":5.1e-12},{"f":0.9175,"csd":1.1e-10,"noise":4.8e-12},{"f":0.9225,"csd":5.0e-11,"noise":7.3e-12},{"f":0.9275,"csd":1.3e-10,"noise":5.6e-12},{"f":0.9325,"csd":1.0e-10,"noise":4.2e-12},{"f":0.9375,"csd":1.5e-10,"noise":6.0e-12},{"f":0.9425,"csd":9.0e-11,"noise":5.2e-12},{"f":0.9475,"csd":1.2e-10,"noise":4.6e-12},
      {"f":0.9525,"csd":1.3e-10,"noise":6.5e-12},{"f":0.9575,"csd":6.0e-11,"noise":5.0e-12},{"f":0.9625,"csd":1.2e-10,"noise":4.4e-12},{"f":0.9675,"csd":1.0e-10,"noise":7.6e-12},{"f":0.9725,"csd":1.5e-10,"noise":5.3e-12},{"f":0.9775,"csd":8.0e-11,"noise":4.9e-12},{"f":0.9825,"csd":1.1e-10,"noise":6.2e-12},{"f":0.9875,"csd":1.4e-10,"noise":5.5e-12},{"f":0.9925,"csd":5.0e-11,"noise":4.1e-12},{"f":0.9975,"csd":1.2e-10,"noise":6.9e-12},
      {"f":1.0025,"csd":1.0e-10,"noise":5.1e-12},{"f":1.0075,"csd":1.3e-10,"noise":4.6e-12},{"f":1.0125,"csd":4.0e-11,"noise":6.8e-12},{"f":1.0175,"csd":1.2e-10,"noise":5.4e-12},{"f":1.0225,"csd":7.0e-11,"noise":4.3e-12},{"f":1.0275,"csd":1.4e-10,"noise":7.2e-12},{"f":1.0325,"csd":3.0e-11,"noise":5.0e-12},{"f":1.0375,"csd":1.1e-10,"noise":4.8e-12},{"f":1.0425,"csd":6.0e-11,"noise":6.4e-12},{"f":1.0475,"csd":1.3e-10,"noise":5.6e-12},
      {"f":1.0525,"csd":1.1e-10,"noise":4.7e-12},{"f":1.0575,"csd":5.0e-11,"noise":7.0e-12},{"f":1.0625,"csd":1.4e-10,"noise":5.3e-12},{"f":1.0675,"csd":9.0e-11,"noise":4.2e-12},{"f":1.0725,"csd":1.2e-10,"noise":6.6e-12},{"f":1.0775,"csd":6.0e-11,"noise":5.1e-12},{"f":1.0825,"csd":1.3e-10,"noise":4.9e-12},{"f":1.0875,"csd":1.0e-10,"noise":7.5e-12},{"f":1.0925,"csd":4.0e-11,"noise":5.5e-12},{"f":1.0975,"csd":1.2e-10,"noise":4.4e-12},
      {"f":1.1025,"csd":1.3e-10,"noise":6.1e-12},{"f":1.1075,"csd":8.0e-11,"noise":5.2e-12},{"f":1.1125,"csd":1.1e-10,"noise":4.5e-12},{"f":1.1175,"csd":1.4e-10,"noise":8.2e-12},{"f":1.1225,"csd":5.0e-11,"noise":5.0e-12},{"f":1.1275,"csd":1.2e-10,"noise":4.6e-12},{"f":1.1325,"csd":9.0e-11,"noise":6.3e-12},{"f":1.1375,"csd":1.3e-10,"noise":5.7e-12},{"f":1.1425,"csd":7.0e-11,"noise":4.1e-12},{"f":1.1475,"csd":1.1e-10,"noise":6.7e-12},
      {"f":1.1525,"csd":1.2e-10,"noise":5.3e-12},{"f":1.1575,"csd":1.4e-10,"noise":4.8e-12},{"f":1.1625,"csd":6.0e-11,"noise":7.1e-12},{"f":1.1675,"csd":1.1e-10,"noise":5.6e-12},{"f":1.1725,"csd":1.3e-10,"noise":4.0e-12},{"f":1.1775,"csd":9.0e-11,"noise":6.5e-12},{"f":1.1825,"csd":1.5e-10,"noise":5.2e-12},{"f":1.1875,"csd":5.0e-11,"noise":4.7e-12},{"f":1.1925,"csd":1.2e-10,"noise":6.9e-12},{"f":1.1975,"csd":1.0e-10,"noise":5.5e-12},
      {"f":1.2025,"csd":1.4e-10,"noise":4.5e-12},{"f":1.2075,"csd":7.0e-11,"noise":6.2e-12},{"f":1.2125,"csd":1.2e-10,"noise":5.0e-12},{"f":1.2175,"csd":1.0e-10,"noise":4.3e-12},{"f":1.2225,"csd":1.3e-10,"noise":7.4e-12},{"f":1.2275,"csd":6.0e-11,"noise":5.3e-12},{"f":1.2325,"csd":1.1e-10,"noise":4.9e-12},{"f":1.2375,"csd":1.4e-10,"noise":6.0e-12},{"f":1.2425,"csd":8.0e-11,"noise":5.6e-12},{"f":1.2475,"csd":1.2e-10,"noise":4.2e-12},
      {"f":1.2525,"csd":1.0e-10,"noise":6.6e-12},{"f":1.2575,"csd":1.3e-10,"noise":5.1e-12},{"f":1.2625,"csd":5.0e-11,"noise":4.6e-12},{"f":1.2675,"csd":1.2e-10,"noise":7.9e-12},{"f":1.2725,"csd":1.4e-10,"noise":5.4e-12},{"f":1.2775,"csd":8.0e-11,"noise":4.4e-12},{"f":1.2825,"csd":1.1e-10,"noise":6.1e-12},{"f":1.2875,"csd":6.0e-11,"noise":5.2e-12},{"f":1.2925,"csd":1.3e-10,"noise":4.8e-12},{"f":1.2975,"csd":1.1e-10,"noise":7.0e-12},
      {"f":1.3025,"csd":1.2e-10,"noise":5.5e-12},{"f":1.3075,"csd":9.0e-11,"noise":4.2e-12},{"f":1.3125,"csd":1.3e-10,"noise":6.4e-12},{"f":1.3175,"csd":6.0e-11,"noise":5.0e-12},{"f":1.3225,"csd":1.1e-10,"noise":4.7e-12},{"f":1.3275,"csd":1.4e-10,"noise":8.3e-12},{"f":1.3325,"csd":7.0e-11,"noise":5.3e-12},{"f":1.3375,"csd":1.2e-10,"noise":4.5e-12},{"f":1.3425,"csd":1.0e-10,"noise":6.2e-12},{"f":1.3475,"csd":1.3e-10,"noise":5.1e-12},
      {"f":1.3525,"csd":1.1e-10,"noise":4.9e-12},{"f":1.3575,"csd":7.0e-11,"noise":6.8e-12},{"f":1.3625,"csd":1.3e-10,"noise":5.4e-12},{"f":1.3675,"csd":1.2e-10,"noise":4.3e-12},{"f":1.3725,"csd":5.0e-11,"noise":6.0e-12},{"f":1.3775,"csd":1.4e-10,"noise":5.2e-12},{"f":1.3825,"csd":1.0e-10,"noise":4.6e-12},{"f":1.3875,"csd":1.2e-10,"noise":7.3e-12},{"f":1.3925,"csd":8.0e-11,"noise":5.5e-12},{"f":1.3975,"csd":1.3e-10,"noise":4.8e-12},
      {"f":1.4025,"csd":1.1e-10,"noise":6.3e-12},{"f":1.4075,"csd":1.3e-10,"noise":5.1e-12},{"f":1.4125,"csd":7.0e-11,"noise":4.4e-12},{"f":1.4175,"csd":1.2e-10,"noise":6.9e-12},{"f":1.4225,"csd":1.3e-10,"noise":5.3e-12},{"f":1.4275,"csd":1.0e-10,"noise":4.7e-12},{"f":1.4325,"csd":1.5e-10,"noise":6.0e-12},{"f":1.4375,"csd":1.2e-10,"noise":5.2e-12},{"f":1.4425,"csd":1.7e-10,"noise":4.5e-12},{"f":1.4475,"csd":1.6e-10,"noise":6.4e-12},
      {"f":1.4525,"csd":2.0e-10,"noise":5.4e-12},{"f":1.4575,"csd":2.4e-10,"noise":4.8e-12},{"f":1.4625,"csd":2.5e-10,"noise":6.2e-12},{"f":1.4675,"csd":3.1e-10,"noise":5.0e-12},{"f":1.4725,"csd":3.7e-10,"noise":4.6e-12},{"f":1.4775,"csd":4.8e-10,"noise":5.9e-12},{"f":1.4825,"csd":6.2e-10,"noise":5.1e-12},
      {"f":1.5125,"csd":9.5e-10,"noise":5.3e-12},{"f":1.5175,"csd":6.0e-10,"noise":4.7e-12},{"f":1.5225,"csd":4.6e-10,"noise":6.0e-12},{"f":1.5275,"csd":3.6e-10,"noise":5.5e-12},{"f":1.5325,"csd":2.8e-10,"noise":4.4e-12},{"f":1.5375,"csd":2.9e-10,"noise":6.8e-12},{"f":1.5425,"csd":2.0e-10,"noise":5.1e-12},{"f":1.5475,"csd":2.1e-10,"noise":4.9e-12},{"f":1.5525,"csd":1.5e-10,"noise":7.1e-12},{"f":1.5575,"csd":9.0e-11,"noise":5.4e-12},
      {"f":1.5625,"csd":1.3e-10,"noise":4.6e-12},{"f":1.5675,"csd":8.0e-11,"noise":6.2e-12},{"f":1.5725,"csd":1.2e-10,"noise":5.0e-12},{"f":1.5775,"csd":1.4e-10,"noise":4.3e-12},{"f":1.5825,"csd":6.0e-11,"noise":7.5e-12},{"f":1.5875,"csd":1.1e-10,"noise":5.6e-12},{"f":1.5925,"csd":1.3e-10,"noise":4.8e-12},{"f":1.5975,"csd":5.0e-11,"noise":6.1e-12},{"f":1.6025,"csd":1.2e-10,"noise":5.2e-12},{"f":1.6075,"csd":1.0e-10,"noise":4.4e-12},
      {"f":1.6125,"csd":1.3e-10,"noise":6.6e-12},{"f":1.6175,"csd":1.2e-10,"noise":5.1e-12},{"f":1.6225,"csd":7.0e-11,"noise":4.7e-12},{"f":1.6275,"csd":1.4e-10,"noise":6.0e-12},{"f":1.6325,"csd":1.0e-10,"noise":5.5e-12},{"f":1.6375,"csd":1.2e-10,"noise":4.2e-12},{"f":1.6425,"csd":6.0e-11,"noise":7.8e-12},{"f":1.6475,"csd":1.3e-10,"noise":5.3e-12},{"f":1.6525,"csd":1.1e-10,"noise":4.9e-12},{"f":1.6575,"csd":8.0e-11,"noise":6.4e-12},
      {"f":1.6625,"csd":1.2e-10,"noise":5.0e-12},{"f":1.6675,"csd":1.4e-10,"noise":4.5e-12},{"f":1.6725,"csd":9.0e-11,"noise":6.9e-12},{"f":1.6775,"csd":1.3e-10,"noise":5.4e-12},{"f":1.6825,"csd":4.0e-11,"noise":4.8e-12},{"f":1.6875,"csd":1.2e-10,"noise":6.2e-12},{"f":1.6925,"csd":1.1e-10,"noise":5.1e-12},{"f":1.6975,"csd":1.4e-10,"noise":4.3e-12},{"f":1.7025,"csd":8.0e-11,"noise":7.0e-12},{"f":1.7075,"csd":1.3e-10,"noise":5.6e-12},
      {"f":1.7125,"csd":1.1e-10,"noise":4.7e-12},{"f":1.7175,"csd":1.3e-10,"noise":6.4e-12},{"f":1.7225,"csd":7.0e-11,"noise":5.2e-12},{"f":1.7275,"csd":1.2e-10,"noise":4.9e-12},{"f":1.7325,"csd":1.4e-10,"noise":6.0e-12},{"f":1.7375,"csd":9.0e-11,"noise":5.5e-12},{"f":1.7425,"csd":1.3e-10,"noise":4.4e-12},{"f":1.7475,"csd":6.0e-11,"noise":7.4e-12},{"f":1.7525,"csd":1.2e-10,"noise":5.0e-12},{"f":1.7575,"csd":1.1e-10,"noise":4.6e-12},
      {"f":1.7625,"csd":1.3e-10,"noise":6.3e-12},{"f":1.7675,"csd":6.0e-11,"noise":5.3e-12},{"f":1.7725,"csd":1.2e-10,"noise":4.5e-12},{"f":1.7775,"csd":1.1e-10,"noise":6.8e-12},{"f":1.7825,"csd":1.4e-10,"noise":5.1e-12},{"f":1.7875,"csd":5.0e-11,"noise":4.8e-12},{"f":1.7925,"csd":1.3e-10,"noise":6.1e-12},{"f":1.7975,"csd":1.2e-10,"noise":5.6e-12},{"f":1.8025,"csd":8.0e-11,"noise":4.2e-12},{"f":1.8075,"csd":1.4e-10,"noise":7.2e-12},
      {"f":1.8125,"csd":1.0e-10,"noise":5.4e-12},{"f":1.8175,"csd":1.3e-10,"noise":4.7e-12},{"f":1.8225,"csd":7.0e-11,"noise":6.5e-12},{"f":1.8275,"csd":1.4e-10,"noise":5.0e-12},{"f":1.8325,"csd":1.2e-10,"noise":4.4e-12},{"f":1.8375,"csd":8.0e-11,"noise":7.1e-12},{"f":1.8425,"csd":1.3e-10,"noise":5.7e-12},{"f":1.8475,"csd":1.1e-10,"noise":4.9e-12},{"f":1.8525,"csd":5.0e-11,"noise":6.2e-12},{"f":1.8575,"csd":1.2e-10,"noise":5.3e-12},
      {"f":1.8625,"csd":1.1e-10,"noise":4.6e-12},{"f":1.8675,"csd":1.4e-10,"noise":6.0e-12},{"f":1.8725,"csd":9.0e-11,"noise":5.2e-12},{"f":1.8775,"csd":1.3e-10,"noise":4.8e-12},{"f":1.8825,"csd":6.0e-11,"noise":7.7e-12},{"f":1.8875,"csd":1.2e-10,"noise":5.5e-12},{"f":1.8925,"csd":1.4e-10,"noise":4.3e-12},{"f":1.8975,"csd":1.0e-10,"noise":6.4e-12},{"f":1.9025,"csd":1.3e-10,"noise":5.1e-12},{"f":1.9075,"csd":7.0e-11,"noise":4.9e-12},
      {"f":1.9125,"csd":1.2e-10,"noise":6.7e-12},{"f":1.9175,"csd":1.4e-10,"noise":5.4e-12},{"f":1.9225,"csd":8.0e-11,"noise":4.6e-12},{"f":1.9275,"csd":1.3e-10,"noise":6.1e-12},{"f":1.9325,"csd":1.1e-10,"noise":5.0e-12},{"f":1.9375,"csd":6.0e-11,"noise":4.7e-12},{"f":1.9425,"csd":1.2e-10,"noise":7.3e-12},{"f":1.9475,"csd":1.0e-10,"noise":5.3e-12},{"f":1.9525,"csd":1.4e-10,"noise":4.4e-12},{"f":1.9575,"csd":9.0e-11,"noise":6.5e-12},
      {"f":1.9625,"csd":1.3e-10,"noise":5.2e-12},{"f":1.9675,"csd":8.0e-11,"noise":4.8e-12},{"f":1.9725,"csd":1.2e-10,"noise":6.6e-12},{"f":1.9775,"csd":1.4e-10,"noise":5.5e-12},{"f":1.9825,"csd":1.0e-10,"noise":4.3e-12},{"f":1.9875,"csd":5.0e-11,"noise":6.9e-12},{"f":1.9925,"csd":1.3e-10,"noise":5.1e-12},{"f":1.9975,"csd":1.2e-10,"noise":4.9e-12},{"f":2.0025,"csd":9.0e-11,"noise":6.2e-12},{"f":2.0075,"csd":1.4e-10,"noise":5.7e-12},
      {"f":2.0125,"csd":1.2e-10,"noise":4.5e-12},{"f":2.0175,"csd":9.0e-11,"noise":7.0e-12},{"f":2.0225,"csd":1.3e-10,"noise":5.3e-12},{"f":2.0275,"csd":7.0e-11,"noise":4.8e-12},{"f":2.0325,"csd":1.4e-10,"noise":6.3e-12},{"f":2.0375,"csd":1.1e-10,"noise":5.6e-12},{"f":2.0425,"csd":1.2e-10,"noise":4.2e-12},{"f":2.0475,"csd":6.0e-11,"noise":6.8e-12},{"f":2.0525,"csd":1.3e-10,"noise":5.0e-12},{"f":2.0575,"csd":1.0e-10,"noise":4.7e-12},
      {"f":2.0625,"csd":1.3e-10,"noise":6.0e-12},{"f":2.0675,"csd":1.0e-10,"noise":5.2e-12},{"f":2.0725,"csd":1.4e-10,"noise":4.4e-12},{"f":2.0775,"csd":7.0e-11,"noise":7.4e-12},{"f":2.0825,"csd":1.2e-10,"noise":5.5e-12},{"f":2.0875,"csd":1.1e-10,"noise":4.9e-12},{"f":2.0925,"csd":1.3e-10,"noise":6.6e-12},{"f":2.0975,"csd":9.0e-11,"noise":5.1e-12},{"f":2.1025,"csd":1.0e-10,"noise":4.6e-12},{"f":2.1075,"csd":1.2e-10,"noise":6.3e-12},
      {"f":2.1125,"csd":1.3e-10,"noise":5.4e-12},{"f":2.1175,"csd":1.1e-10,"noise":4.7e-12},{"f":2.1225,"csd":8.0e-11,"noise":6.9e-12},{"f":2.1275,"csd":1.4e-10,"noise":5.0e-12},{"f":2.1325,"csd":1.2e-10,"noise":4.3e-12},{"f":2.1375,"csd":6.0e-11,"noise":6.4e-12},{"f":2.1425,"csd":1.3e-10,"noise":5.8e-12},{"f":2.1475,"csd":1.0e-10,"noise":4.8e-12},{"f":2.1525,"csd":1.2e-10,"noise":7.1e-12},{"f":2.1575,"csd":9.0e-11,"noise":5.2e-12},
      {"f":2.1625,"csd":1.0e-10,"noise":4.6e-12},{"f":2.1675,"csd":1.3e-10,"noise":6.2e-12},{"f":2.1725,"csd":1.1e-10,"noise":5.3e-12},{"f":2.1775,"csd":1.4e-10,"noise":4.9e-12},{"f":2.1825,"csd":8.0e-11,"noise":6.7e-12},{"f":2.1875,"csd":1.3e-10,"noise":5.1e-12},{"f":2.1925,"csd":1.0e-10,"noise":4.4e-12},{"f":2.1975,"csd":7.0e-11,"noise":7.6e-12},{"f":2.2025,"csd":1.2e-10,"noise":5.5e-12},{"f":2.2075,"csd":1.3e-10,"noise":4.8e-12},
      {"f":2.2125,"csd":1.2e-10,"noise":6.1e-12},{"f":2.2175,"csd":1.0e-10,"noise":5.0e-12},{"f":2.2225,"csd":1.4e-10,"noise":4.5e-12},{"f":2.2275,"csd":8.0e-11,"noise":6.9e-12},{"f":2.2325,"csd":1.3e-10,"noise":5.4e-12},{"f":2.2375,"csd":1.1e-10,"noise":4.7e-12},{"f":2.2425,"csd":1.4e-10,"noise":6.3e-12},{"f":2.2475,"csd":9.0e-11,"noise":5.2e-12},{"f":2.2525,"csd":1.2e-10,"noise":4.8e-12},{"f":2.2575,"csd":1.3e-10,"noise":7.0e-12},
      {"f":2.2625,"csd":1.1e-10,"noise":5.3e-12},{"f":2.2675,"csd":9.0e-11,"noise":4.6e-12},{"f":2.2725,"csd":1.3e-10,"noise":6.5e-12},{"f":2.2775,"csd":1.4e-10,"noise":5.1e-12},{"f":2.2825,"csd":8.0e-11,"noise":4.4e-12},{"f":2.2875,"csd":1.2e-10,"noise":7.2e-12},{"f":2.2925,"csd":1.0e-10,"noise":5.6e-12},{"f":2.2975,"csd":1.4e-10,"noise":4.9e-12},{"f":2.3025,"csd":7.0e-11,"noise":6.0e-12},{"f":2.3075,"csd":1.3e-10,"noise":5.2e-12},
      {"f":2.3125,"csd":1.2e-10,"noise":4.8e-12},{"f":2.3175,"csd":1.1e-10,"noise":6.4e-12},{"f":2.3225,"csd":1.3e-10,"noise":5.5e-12},{"f":2.3275,"csd":9.0e-11,"noise":4.3e-12},{"f":2.3325,"csd":1.4e-10,"noise":6.8e-12},{"f":2.3375,"csd":1.3e-10,"noise":5.0e-12},{"f":2.3425,"csd":1.0e-10,"noise":4.7e-12},{"f":2.3475,"csd":1.2e-10,"noise":7.4e-12},{"f":2.3525,"csd":1.5e-10,"noise":5.3e-12},{"f":2.3575,"csd":1.1e-10,"noise":4.9e-12},
      {"f":2.3625,"csd":1.3e-10,"noise":6.2e-12},{"f":2.3675,"csd":1.2e-10,"noise":5.1e-12},{"f":2.3725,"csd":1.5e-10,"noise":4.6e-12},{"f":2.3775,"csd":1.7e-10,"noise":6.6e-12},{"f":2.3825,"csd":1.6e-10,"noise":5.4e-12},{"f":2.3875,"csd":1.8e-10,"noise":4.8e-12},{"f":2.3925,"csd":1.9e-10,"noise":7.0e-12},{"f":2.3975,"csd":1.6e-10,"noise":5.2e-12},{"f":2.4025,"csd":2.0e-10,"noise":4.5e-12},{"f":2.4075,"csd":1.8e-10,"noise":6.1e-12},
      {"f":2.4125,"csd":2.1e-10,"noise":5.5e-12},{"f":2.4175,"csd":1.7e-10,"noise":4.9e-12},{"f":2.4225,"csd":2.0e-10,"noise":6.3e-12},{"f":2.4275,"csd":1.8e-10,"noise":5.0e-12},{"f":2.4325,"csd":1.2e-10,"noise":4.4e-12},{"f":2.4375,"csd":2.1e-10,"noise":7.3e-12},{"f":2.4425,"csd":2.0e-10,"noise":5.7e-12},{"f":2.4475,"csd":1.9e-10,"noise":4.8e-12},{"f":2.4525,"csd":1.8e-10,"noise":6.5e-12},{"f":2.4575,"csd":1.6e-10,"noise":5.2e-12},
      {"f":2.4625,"csd":1.7e-10,"noise":4.7e-12},{"f":2.4675,"csd":2.2e-10,"noise":6.0e-12},{"f":2.4725,"csd":2.0e-10,"noise":5.3e-12},{"f":2.4775,"csd":1.9e-10,"noise":4.5e-12},{"f":2.4825,"csd":1.8e-10,"noise":7.8e-12},{"f":2.4875,"csd":2.4e-10,"noise":5.4e-12},{"f":2.4925,"csd":2.1e-10,"noise":4.9e-12},{"f":2.4975,"csd":1.7e-10,"noise":6.2e-12}
    ]
  },
  "layer": [
    {
      "data": {"name": "psd"},
      "mark": {"type": "line", "strokeWidth": 5, "clip": true},
      "encoding": {
        "x": {"field": "f", "type": "quantitative", "scale": {"domain": [0.5, 2.5], "nice": false, "zero": false},
          "axis": {"orient": "bottom", "values": [0.75, 1, 1.25, 1.5, 1.75, 2, 2.25, 2.5], "format": ".2f", "ticks": false, "grid": false, "domain": false, "labelFontSize": 68, "labelPadding": 27, "title": "Frequency [kHz]", "titleFontSize": 84, "titlePadding": 20}},
        "y": {"field": "ch0", "type": "quantitative", "scale": {"type": "log", "domain": [6.7e-13, 1.68e-3], "nice": false},
          "axis": {"orient": "left", "values": [1e-3, 1e-5, 1e-7, 1e-9, 1e-11], "labelExpr": "datum.value > 5e-4 ? '10⁻³' : datum.value > 5e-6 ? '10⁻⁵' : datum.value > 5e-8 ? '10⁻⁷' : datum.value > 5e-10 ? '10⁻⁹' : '10⁻¹¹'", "ticks": false, "grid": false, "domain": false, "labelFontSize": 66, "labelPadding": 26, "title": "[V**2/Hz]", "titleFontSize": 85, "titlePadding": 62}},
        "color": {"datum": "PSD ch0", "scale": {"domain": ["PSD ch0", "PSD ch1", "CSD", "CSD Statistical Noise"], "range": ["#52a85a", "#f6ae45", "#7b0ea8", "#000000"]}, "legend": {"title": null}}
      }
    },
    {
      "data": {"name": "psd"},
      "mark": {"type": "line", "strokeWidth": 5, "clip": true},
      "encoding": {
        "x": {"field": "f", "type": "quantitative", "scale": {"domain": [0.5, 2.5], "nice": false, "zero": false},
          "axis": {"orient": "bottom", "values": [0.55,0.6,0.65,0.7,0.75,0.8,0.85,0.9,0.95,1,1.05,1.1,1.15,1.2,1.25,1.3,1.35,1.4,1.45,1.5,1.55,1.6,1.65,1.7,1.75,1.8,1.85,1.9,1.95,2,2.05,2.1,2.15,2.2,2.25,2.3,2.35,2.4,2.45], "labels": false, "domain": false, "grid": true, "gridColor": "#d3d3d3", "gridWidth": 2, "ticks": true, "tickColor": "black", "tickWidth": 4, "tickSize": {"condition": {"test": "abs(datum.value*4 - round(datum.value*4)) < 0.01", "value": -43}, "value": -22}, "title": null}},
        "y": {"field": "ch1", "type": "quantitative", "scale": {"type": "log", "domain": [6.7e-13, 1.68e-3], "nice": false},
          "axis": {"orient": "left", "values": [1e-3, 1e-5, 1e-7, 1e-9, 1e-11], "labels": false, "domain": false, "grid": true, "gridColor": "#d3d3d3", "gridWidth": 2, "ticks": true, "tickColor": "black", "tickWidth": 4, "tickSize": -43, "title": null}},
        "color": {"datum": "PSD ch1"}
      }
    },
    {
      "data": {"name": "csd"},
      "mark": {"type": "line", "strokeWidth": 5, "clip": true},
      "encoding": {
        "x": {"field": "f", "type": "quantitative", "scale": {"domain": [0.5, 2.5], "nice": false, "zero": false},
          "axis": {"orient": "top", "values": [0.55,0.6,0.65,0.7,0.75,0.8,0.85,0.9,0.95,1,1.05,1.1,1.15,1.2,1.25,1.3,1.35,1.4,1.45,1.5,1.55,1.6,1.65,1.7,1.75,1.8,1.85,1.9,1.95,2,2.05,2.1,2.15,2.2,2.25,2.3,2.35,2.4,2.45], "labels": false, "domain": false, "grid": false, "ticks": true, "tickColor": "black", "tickWidth": 4, "tickSize": {"condition": {"test": "abs(datum.value*4 - round(datum.value*4)) < 0.01", "value": -43}, "value": -22}, "title": null}},
        "y": {"field": "csd", "type": "quantitative", "scale": {"type": "log", "domain": [6.7e-13, 1.68e-3], "nice": false},
          "axis": {"orient": "right", "values": [1e-3, 1e-5, 1e-7, 1e-9, 1e-11], "labels": false, "domain": false, "grid": false, "ticks": true, "tickColor": "black", "tickWidth": 4, "tickSize": -43, "title": null}},
        "color": {"datum": "CSD"}
      }
    },
    {
      "data": {"name": "csd"},
      "mark": {"type": "line", "strokeWidth": 5, "clip": true},
      "encoding": {
        "x": {"field": "f", "type": "quantitative", "scale": {"domain": [0.5, 2.5], "nice": false, "zero": false}, "axis": null},
        "y": {"field": "noise", "type": "quantitative", "scale": {"type": "log", "domain": [6.7e-13, 1.68e-3], "nice": false}, "axis": null},
        "color": {"datum": "CSD Statistical Noise"}
      }
    }
  ],
  "resolve": {"axis": {"x": "independent", "y": "independent"}}
}
